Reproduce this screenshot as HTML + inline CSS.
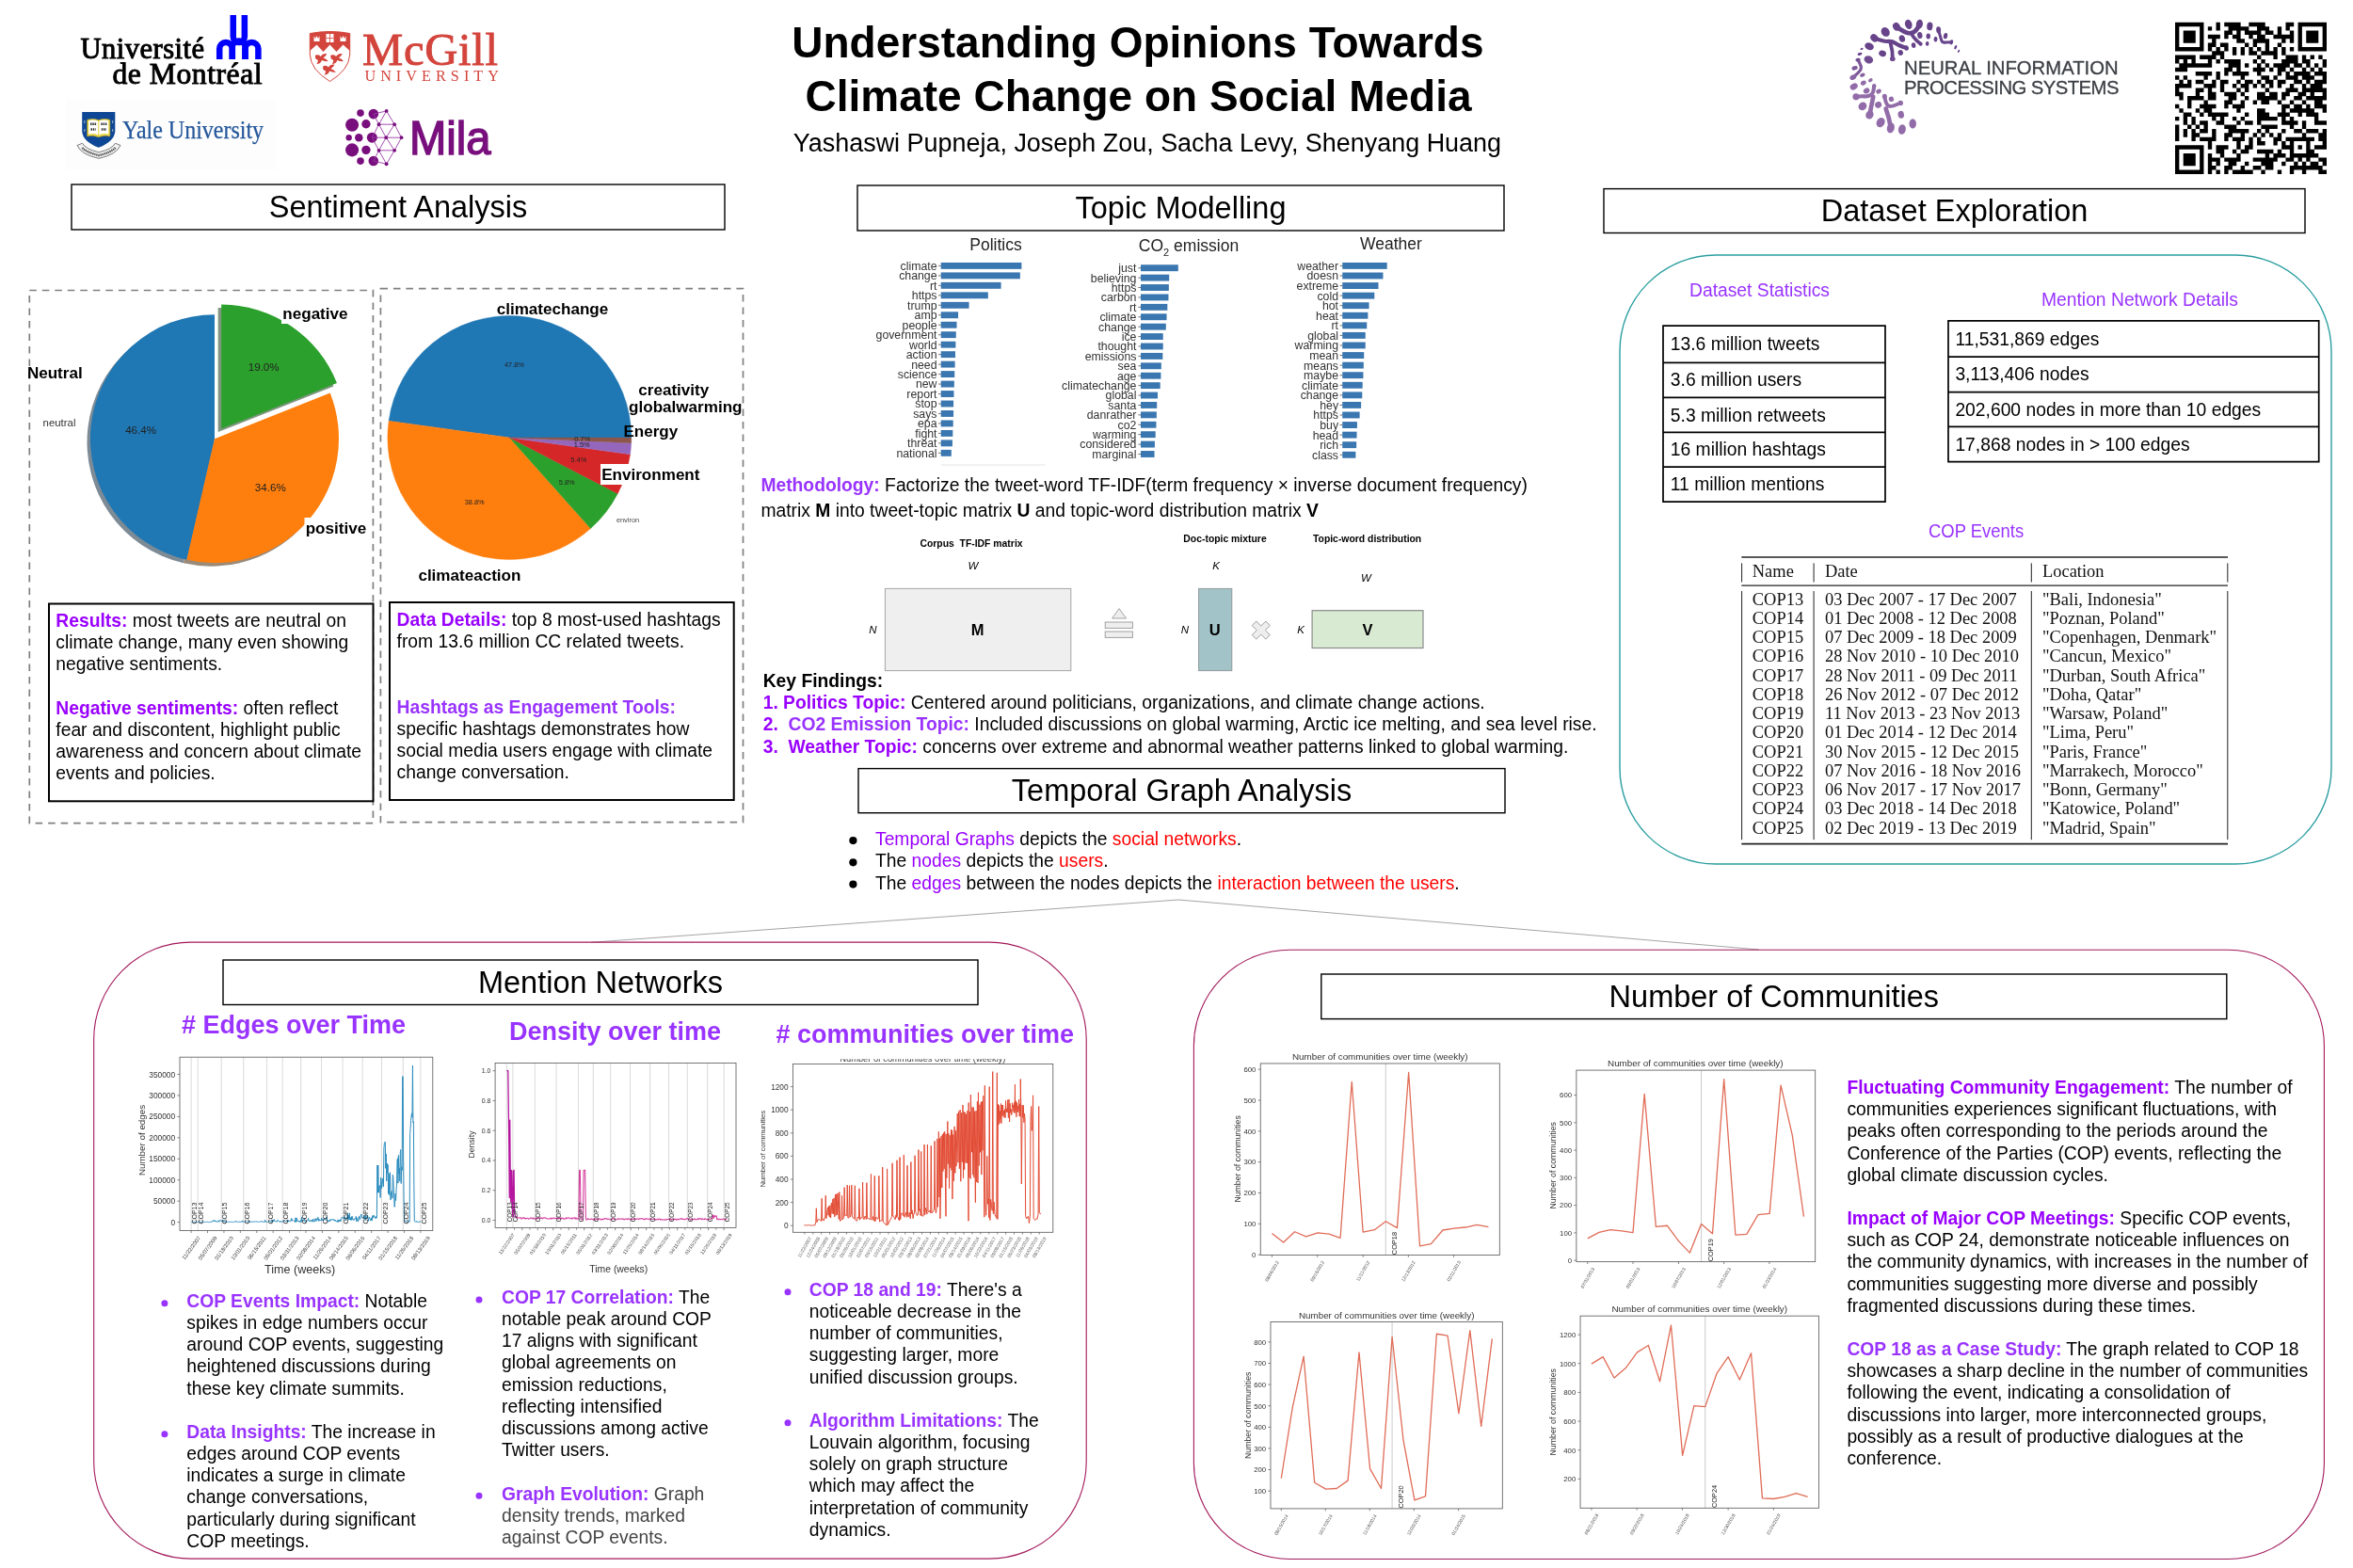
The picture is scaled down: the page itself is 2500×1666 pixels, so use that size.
<!DOCTYPE html>
<html><head><meta charset="utf-8"><title>Understanding Opinions Towards Climate Change on Social Media</title>
<style>
html,body{margin:0;padding:0;background:#fff;}
body{width:2500px;height:1666px;position:relative;overflow:hidden;font-family:"Liberation Sans", sans-serif;}
.t{position:absolute;white-space:nowrap;}
.sf{font-family:"Liberation Serif", serif;}
.p{color:#9933ff;}
.pv{color:#9900ff;}
.r{color:#ff0000;}
svg{position:absolute;left:0;top:0;will-change:transform;}
#txt{position:absolute;left:0;top:0;width:2500px;height:1666px;will-change:transform;}
svg text{font-family:"Liberation Sans", sans-serif;}
</style></head><body>
<svg width="2500" height="1666" viewBox="0 0 2500 1666">
<g fill="none" stroke="#0000ff" stroke-width="6.5" stroke-linejoin="round"><path d="M233.2,63 V51.85 A6.8,6.8 0 0 1 246.8,51.85 V63"/><path d="M246.8,63 V50.3 A6.85,6.85 0 0 1 260.5,50.3 V63"/><path d="M260.5,63 V51.85 A6.95,6.95 0 0 1 274.4,51.85 V63"/><path d="M247.75,16.1 V38.95 A6.05,6.05 0 0 0 259.85,38.95 V16.1"/></g>
<g><path d="M329.3,35.5 Q350.5,31.5 371.7,35.5 V58 Q371,74 350.5,86.5 Q330,74 329.3,58 Z" fill="#fff" stroke="#d3443c" stroke-width="1"/><path d="M329.3,35.5 Q350.5,31.5 371.7,35.5 V54 L364.5,47.5 L357.5,55 L350.5,47.5 L343.5,55 L336.5,47.5 L329.3,54 Z" fill="#d3443c"/><rect x="346.5" y="36" width="8" height="9" fill="#fff"/><path d="M350.5,36 V45 M346.5,40.5 H354.5" stroke="#d9443c" stroke-width="0.8"/><path d="M333.5,38 l1.5,3 l1.5,-3 l1.5,3 l1.5,-3 v6 h-6 z" fill="#fff"/><path d="M361.5,38 l1.5,3 l1.5,-3 l1.5,3 l1.5,-3 v6 h-6 z" fill="#fff"/><g fill="#d3443c"><path transform="translate(335.2,58.6) scale(1.35)" d="M0,0 q3,-1 4,1 q2,-3 5,-2 q-1,2 -3,3 q3,1 4,3 q-3,0 -5,-1 q-1,3 -4,3 q1,-2 1,-3 q-3,-1 -2,-4 z"/><path transform="translate(351.6,58.6) scale(1.35)" d="M0,0 q3,-1 4,1 q2,-3 5,-2 q-1,2 -3,3 q3,1 4,3 q-3,0 -5,-1 q-1,3 -4,3 q1,-2 1,-3 q-3,-1 -2,-4 z"/><path transform="translate(343.4,70.2) scale(1.35)" d="M0,0 q3,-1 4,1 q2,-3 5,-2 q-1,2 -3,3 q3,1 4,3 q-3,0 -5,-1 q-1,3 -4,3 q1,-2 1,-3 q-3,-1 -2,-4 z"/></g></g>
<rect x="70" y="105.5" width="223.5" height="75" fill="#fdfdfd"/>
<g><path d="M82,154.5 L87.5,152.2 Q91,158.5 105,161.8 Q119,158.5 122.5,152.2 L128,154.5 Q123.5,164.5 105,168.3 Q86.5,164.5 82,154.5 Z" fill="#f2f2f2" stroke="#5a5a5a" stroke-width="0.8"/><path d="M87.5,157 Q92,162 105,165 Q118,162 122.500,157" fill="none" stroke="#444" stroke-width="2.3" stroke-dasharray="1.3 0.8"/><path d="M87.200,119 H122.300 V139.500 Q121.500,150.500 104.750,156.800 Q88,150.500 87.200,139.500 Z" fill="#0e4795"/><path d="M92.600,127.300 q6,-2.200 12.150,0.300 q6.150,-2.500 12.150,-0.300 v17.600 q-6,-1.800 -12.150,0.900 q-6.150,-2.700 -12.150,-0.900 z" fill="#e9d648" stroke="#9a8a1c" stroke-width="0.5"/><path d="M94.200,128.200 q5,-1.700 10,0.400 v14.600 q-5,-2 -10,-0.600 z M105.300,128.600 q5,-2.100 10,-0.400 v14.400 q-5,-1.400 -10,0.600 z" fill="#fff"/><path d="M96,131.800 h6.200 M96.500,137.500 h5.200 M107.300,131.800 h6.200 M107.800,137.500 h5.200" stroke="#333" stroke-width="2.600" stroke-dasharray="1.500 0.800"/><path d="M89.800,128 v3 M89.800,137 v3 M119.700,128 v3 M119.700,137 v3" stroke="#cfcfcf" stroke-width="0.8"/></g>
<g fill="#780f7d"><circle cx="382.99" cy="120.06" r="3.82"/><circle cx="396.8" cy="121.12" r="5.31"/><circle cx="374.07" cy="132.81" r="7.01"/><circle cx="388.94" cy="131.75" r="4.67"/><circle cx="370.67" cy="146.2" r="3.19"/><circle cx="381.29" cy="146.2" r="4.25"/><circle cx="395.32" cy="146.2" r="5.52"/><circle cx="374.07" cy="159.37" r="7.01"/><circle cx="388.94" cy="159.37" r="4.67"/><circle cx="382.99" cy="171.06" r="3.82"/><circle cx="396.8" cy="171.06" r="5.31"/></g><g stroke="#9a3aa6" stroke-width="0.9" fill="none"><path d="M410.62,117.93 L402.54,132.17"/><path d="M410.62,117.93 L419.12,132.17"/><path d="M402.54,132.17 L419.12,132.17"/><path d="M402.54,132.17 L410.19,146.2"/><path d="M419.12,132.17 L410.19,146.2"/><path d="M419.12,132.17 L426.55,146.2"/><path d="M410.19,146.2 L426.55,146.2"/><path d="M410.19,146.2 L402.54,159.8"/><path d="M410.19,146.2 L419.12,159.8"/><path d="M426.55,146.2 L419.12,159.8"/><path d="M402.54,159.8 L419.12,159.8"/><path d="M402.54,159.8 L410.62,174.25"/><path d="M419.12,159.8 L410.62,174.25"/><path d="M396.8,121.12 L410.62,117.93"/><path d="M396.8,121.12 L402.54,132.17"/><path d="M395.32,146.2 L402.54,132.17"/><path d="M395.32,146.2 L410.19,146.2"/><path d="M395.32,146.2 L402.54,159.8"/><path d="M396.8,171.06 L402.54,159.8"/><path d="M396.8,171.06 L410.62,174.25"/></g><g fill="#780f7d"><circle cx="410.62" cy="117.93" r="1.9"/><circle cx="402.54" cy="132.17" r="1.9"/><circle cx="419.12" cy="132.17" r="1.9"/><circle cx="410.19" cy="146.2" r="1.9"/><circle cx="426.55" cy="146.2" r="1.9"/><circle cx="402.54" cy="159.8" r="1.9"/><circle cx="419.12" cy="159.8" r="1.9"/><circle cx="410.62" cy="174.25" r="1.9"/></g>
<g><path d="M2015,28.3 Q2022.86,34.11 2026.88,35 Q2030.89,35.89 2034.02,33.66 Q2037.14,31.43 2039.38,25.62" fill="none" stroke="#67438a" stroke-width="4.71" stroke-linecap="round" stroke-linejoin="round"/><path d="M2030.89,35.89 Q2033.57,41.25 2040.54,46.61" fill="none" stroke="#67438a" stroke-width="3.6" stroke-linecap="round" stroke-linejoin="round"/><path d="M1991.43,40.36 Q2001.43,44.38 2005.89,43.93 Q2010.36,43.48 2013.93,45.94 Q2017.5,48.39 2025.54,51.07" fill="none" stroke="#67438a" stroke-width="4.15" stroke-linecap="round" stroke-linejoin="round"/><path d="M2008.57,45.71 Q2011.25,54.64 2010.8,62.68" fill="none" stroke="#67438a" stroke-width="3.88" stroke-linecap="round" stroke-linejoin="round"/><path d="M2059.64,31.88 Q2061.7,39.46 2062.59,42.37 Q2063.48,45.27 2065.49,45.13 Q2067.5,45 2073.3,44.82" fill="none" stroke="#67438a" stroke-width="3.04" stroke-linecap="round" stroke-linejoin="round"/><path d="M1974.02,63.57 Q1978.39,70.71 1977.05,73.62 Q1975.71,76.52 1968.84,82.14" fill="none" stroke="#7f5a9b" stroke-width="3.32" stroke-linecap="round" stroke-linejoin="round"/><path d="M1991.16,91.25 Q1990.71,99.29 1987.59,101.07 Q1984.46,102.86 1980.89,102.41 Q1977.32,101.96 1971.96,102.86" fill="none" stroke="#926ca8" stroke-width="4.15" stroke-linecap="round" stroke-linejoin="round"/><path d="M1990.27,102.86 Q1988.21,112.68 1986.43,122.05" fill="none" stroke="#926ca8" stroke-width="4.71" stroke-linecap="round" stroke-linejoin="round"/><path d="M2002.32,102.41 Q2003.66,110.89 2006.12,112.23 Q2008.57,113.57 2012.14,112.23 Q2015.71,110.89 2019.29,109.55" fill="none" stroke="#926ca8" stroke-width="3.88" stroke-linecap="round" stroke-linejoin="round"/><path d="M2003.66,115.36 Q2007.68,126.07 2008.84,135.89" fill="none" stroke="#926ca8" stroke-width="4.71" stroke-linecap="round" stroke-linejoin="round"/><ellipse cx="2027.77" cy="25.89" rx="3.75" ry="5.18" fill="#67438a" transform="rotate(-15 2027.77 25.89)"/><ellipse cx="2039.38" cy="25.62" rx="3.57" ry="4.91" fill="#67438a" transform="rotate(10 2039.38 25.62)"/><ellipse cx="2050.36" cy="27.86" rx="3.12" ry="4.46" fill="#67438a" transform="rotate(5 2050.36 27.86)"/><ellipse cx="2059.64" cy="31.88" rx="2.5" ry="3.57" fill="#67438a" transform="rotate(-5 2059.64 31.88)"/><ellipse cx="2067.05" cy="38.12" rx="2.14" ry="3.21" fill="#67438a" transform="rotate(10 2067.05 38.12)"/><ellipse cx="2073.3" cy="44.82" rx="1.79" ry="2.68" fill="#67438a" transform="rotate(20 2073.3 44.82)"/><ellipse cx="2077.77" cy="50.18" rx="1.25" ry="2.32" fill="#67438a" transform="rotate(25 2077.77 50.18)"/><ellipse cx="2081.07" cy="54.38" rx="0.98" ry="1.61" fill="#67438a" transform="rotate(30 2081.07 54.38)"/><ellipse cx="2015" cy="28.3" rx="3.75" ry="4.46" fill="#67438a" transform="rotate(-30 2015 28.3)"/><ellipse cx="2003.21" cy="33.93" rx="4.29" ry="5.18" fill="#67438a" transform="rotate(-35 2003.21 33.93)"/><ellipse cx="1991.43" cy="40.36" rx="3.75" ry="4.46" fill="#67438a" transform="rotate(-45 1991.43 40.36)"/><ellipse cx="1986.07" cy="49.29" rx="4.91" ry="3.75" fill="#67438a" transform="rotate(20 1986.07 49.29)"/><ellipse cx="1985.36" cy="63.39" rx="4.91" ry="4.02" fill="#714c91" transform="rotate(20 1985.36 63.39)"/><ellipse cx="2020.89" cy="41.07" rx="3.12" ry="3.75" fill="#67438a" transform="rotate(-20 2020.89 41.07)"/><ellipse cx="2039.82" cy="37.5" rx="2.68" ry="3.57" fill="#67438a" transform="rotate(-10 2039.82 37.5)"/><ellipse cx="2048.75" cy="38.57" rx="2.23" ry="3.04" fill="#67438a" transform="rotate(0 2048.75 38.57)"/><ellipse cx="2056.52" cy="41.7" rx="1.96" ry="2.86" fill="#67438a" transform="rotate(10 2056.52 41.7)"/><ellipse cx="2047.68" cy="46.43" rx="1.79" ry="2.41" fill="#67438a" transform="rotate(0 2047.68 46.43)"/><ellipse cx="2040.54" cy="46.61" rx="1.96" ry="2.23" fill="#67438a" transform="rotate(0 2040.54 46.61)"/><ellipse cx="2033.12" cy="48.12" rx="2.32" ry="2.86" fill="#67438a" transform="rotate(-10 2033.12 48.12)"/><ellipse cx="2025.54" cy="51.07" rx="2.32" ry="2.68" fill="#67438a" transform="rotate(-20 2025.54 51.07)"/><ellipse cx="2019.29" cy="55.98" rx="2.68" ry="2.86" fill="#67438a" transform="rotate(-20 2019.29 55.98)"/><ellipse cx="2000.09" cy="56.88" rx="3.93" ry="3.21" fill="#67438a" transform="rotate(20 2000.09 56.88)"/><ellipse cx="2010.8" cy="62.68" rx="2.86" ry="2.32" fill="#704b90" transform="rotate(0 2010.8 62.68)"/><ellipse cx="1978.04" cy="51.96" rx="1.61" ry="0.98" fill="#67438a" transform="rotate(-20 1978.04 51.96)"/><ellipse cx="1975.98" cy="57.32" rx="2.5" ry="1.43" fill="#68448a" transform="rotate(-15 1975.98 57.32)"/><ellipse cx="1974.02" cy="63.57" rx="2.68" ry="1.79" fill="#714c91" transform="rotate(-10 1974.02 63.57)"/><ellipse cx="1970.62" cy="72.32" rx="3.21" ry="2.14" fill="#7e599a" transform="rotate(-20 1970.62 72.32)"/><ellipse cx="1968.84" cy="82.14" rx="3.57" ry="2.5" fill="#8c66a4" transform="rotate(-25 1968.84 82.14)"/><ellipse cx="1978.84" cy="79.82" rx="2.86" ry="1.96" fill="#8963a1" transform="rotate(-25 1978.84 79.82)"/><ellipse cx="1969.73" cy="91.96" rx="4.29" ry="3.21" fill="#926ca8" transform="rotate(-30 1969.73 91.96)"/><ellipse cx="1979.82" cy="88.12" rx="3.04" ry="2.32" fill="#926ca8" transform="rotate(-30 1979.82 88.12)"/><ellipse cx="1987.32" cy="85.18" rx="2.5" ry="1.79" fill="#906ba7" transform="rotate(-30 1987.32 85.18)"/><ellipse cx="1991.16" cy="91.25" rx="2.32" ry="1.96" fill="#926ca8" transform="rotate(-20 1991.16 91.25)"/><ellipse cx="1983.12" cy="96.43" rx="3.39" ry="2.86" fill="#926ca8" transform="rotate(-30 1983.12 96.43)"/><ellipse cx="1996.07" cy="97.05" rx="2.86" ry="2.32" fill="#926ca8" transform="rotate(-30 1996.07 97.05)"/><ellipse cx="1971.96" cy="102.86" rx="3.57" ry="3.57" fill="#926ca8" transform="rotate(0 1971.96 102.86)"/><ellipse cx="1978.93" cy="112.86" rx="4.64" ry="4.11" fill="#926ca8" transform="rotate(-40 1978.93 112.86)"/><ellipse cx="1995.62" cy="111.34" rx="3.57" ry="3.39" fill="#926ca8" transform="rotate(-30 1995.62 111.34)"/><ellipse cx="2002.32" cy="102.41" rx="2.5" ry="2.68" fill="#926ca8" transform="rotate(0 2002.32 102.41)"/><ellipse cx="2009.46" cy="105.36" rx="2.68" ry="2.68" fill="#926ca8" transform="rotate(-20 2009.46 105.36)"/><ellipse cx="2019.29" cy="109.55" rx="2.68" ry="2.68" fill="#926ca8" transform="rotate(0 2019.29 109.55)"/><ellipse cx="2019.73" cy="121.79" rx="3.21" ry="3.93" fill="#926ca8" transform="rotate(-10 2019.73 121.79)"/><ellipse cx="2032.23" cy="131.43" rx="3.75" ry="5.18" fill="#926ca8" transform="rotate(0 2032.23 131.43)"/><ellipse cx="2020.89" cy="137.5" rx="3.93" ry="5.36" fill="#926ca8" transform="rotate(10 2020.89 137.5)"/><ellipse cx="2008.84" cy="135.89" rx="3.93" ry="5.54" fill="#926ca8" transform="rotate(15 2008.84 135.89)"/><ellipse cx="1998.12" cy="130.09" rx="4.29" ry="5.36" fill="#926ca8" transform="rotate(30 1998.12 130.09)"/><ellipse cx="1986.43" cy="122.05" rx="4.02" ry="4.64" fill="#926ca8" transform="rotate(30 1986.43 122.05)"/></g>
<path d="M2311,23.8h30.46v4.47h-30.46zM2354.51,23.8h4.35v4.47h-4.35zM2363.22,23.8h17.41v4.47h-17.41zM2389.32,23.8h17.41v4.47h-17.41zM2428.49,23.8h8.7v4.47h-8.7zM2441.54,23.8h30.46v4.47h-30.46zM2311,28.15h4.35v4.47h-4.35zM2337.11,28.15h4.35v4.47h-4.35zM2345.81,28.15h4.35v4.47h-4.35zM2354.51,28.15h4.35v4.47h-4.35zM2367.57,28.15h21.76v4.47h-21.76zM2398.03,28.15h13.05v4.47h-13.05zM2419.78,28.15h4.35v4.47h-4.35zM2428.49,28.15h4.35v4.47h-4.35zM2441.54,28.15h4.35v4.47h-4.35zM2467.65,28.15h4.35v4.47h-4.35zM2311,32.5h4.35v4.47h-4.35zM2319.7,32.5h13.05v4.47h-13.05zM2337.11,32.5h4.35v4.47h-4.35zM2363.22,32.5h8.7v4.47h-8.7zM2376.27,32.5h4.35v4.47h-4.35zM2384.97,32.5h17.41v4.47h-17.41zM2406.73,32.5h8.7v4.47h-8.7zM2419.78,32.5h4.35v4.47h-4.35zM2432.84,32.5h4.35v4.47h-4.35zM2441.54,32.5h4.35v4.47h-4.35zM2450.24,32.5h13.05v4.47h-13.05zM2467.65,32.5h4.35v4.47h-4.35zM2311,36.85h4.35v4.47h-4.35zM2319.7,36.85h13.05v4.47h-13.05zM2337.11,36.85h4.35v4.47h-4.35zM2345.81,36.85h13.05v4.47h-13.05zM2363.22,36.85h4.35v4.47h-4.35zM2371.92,36.85h8.7v4.47h-8.7zM2389.32,36.85h4.35v4.47h-4.35zM2398.03,36.85h8.7v4.47h-8.7zM2415.43,36.85h21.76v4.47h-21.76zM2441.54,36.85h4.35v4.47h-4.35zM2450.24,36.85h13.05v4.47h-13.05zM2467.65,36.85h4.35v4.47h-4.35zM2311,41.21h4.35v4.47h-4.35zM2319.7,41.21h13.05v4.47h-13.05zM2337.11,41.21h4.35v4.47h-4.35zM2350.16,41.21h4.35v4.47h-4.35zM2376.27,41.21h8.7v4.47h-8.7zM2393.68,41.21h17.41v4.47h-17.41zM2424.14,41.21h4.35v4.47h-4.35zM2432.84,41.21h4.35v4.47h-4.35zM2441.54,41.21h4.35v4.47h-4.35zM2450.24,41.21h13.05v4.47h-13.05zM2467.65,41.21h4.35v4.47h-4.35zM2311,45.56h4.35v4.47h-4.35zM2337.11,45.56h4.35v4.47h-4.35zM2345.81,45.56h8.7v4.47h-8.7zM2358.86,45.56h8.7v4.47h-8.7zM2384.97,45.56h4.35v4.47h-4.35zM2393.68,45.56h4.35v4.47h-4.35zM2406.73,45.56h4.35v4.47h-4.35zM2419.78,45.56h4.35v4.47h-4.35zM2441.54,45.56h4.35v4.47h-4.35zM2467.65,45.56h4.35v4.47h-4.35zM2311,49.91h30.46v4.47h-30.46zM2345.81,49.91h4.35v4.47h-4.35zM2354.51,49.91h4.35v4.47h-4.35zM2363.22,49.91h4.35v4.47h-4.35zM2371.92,49.91h4.35v4.47h-4.35zM2380.62,49.91h4.35v4.47h-4.35zM2389.32,49.91h4.35v4.47h-4.35zM2398.03,49.91h4.35v4.47h-4.35zM2406.73,49.91h4.35v4.47h-4.35zM2415.43,49.91h4.35v4.47h-4.35zM2424.14,49.91h4.35v4.47h-4.35zM2432.84,49.91h4.35v4.47h-4.35zM2441.54,49.91h30.46v4.47h-30.46zM2350.16,54.26h13.05v4.47h-13.05zM2371.92,54.26h4.35v4.47h-4.35zM2380.62,54.26h4.35v4.47h-4.35zM2389.32,54.26h8.7v4.47h-8.7zM2402.38,54.26h17.41v4.47h-17.41zM2424.14,54.26h4.35v4.47h-4.35zM2311,58.61h21.76v4.47h-21.76zM2337.11,58.61h17.41v4.47h-17.41zM2358.86,58.61h4.35v4.47h-4.35zM2398.03,58.61h4.35v4.47h-4.35zM2415.43,58.61h4.35v4.47h-4.35zM2428.49,58.61h13.05v4.47h-13.05zM2445.89,58.61h4.35v4.47h-4.35zM2454.59,58.61h4.35v4.47h-4.35zM2463.3,58.61h4.35v4.47h-4.35zM2311,62.96h4.35v4.47h-4.35zM2319.7,62.96h4.35v4.47h-4.35zM2328.41,62.96h4.35v4.47h-4.35zM2345.81,62.96h4.35v4.47h-4.35zM2354.51,62.96h4.35v4.47h-4.35zM2363.22,62.96h17.41v4.47h-17.41zM2393.68,62.96h4.35v4.47h-4.35zM2402.38,62.96h4.35v4.47h-4.35zM2424.14,62.96h17.41v4.47h-17.41zM2445.89,62.96h8.7v4.47h-8.7zM2467.65,62.96h4.35v4.47h-4.35zM2315.35,67.31h34.81v4.47h-34.81zM2367.57,67.31h13.05v4.47h-13.05zM2384.97,67.31h4.35v4.47h-4.35zM2398.03,67.31h4.35v4.47h-4.35zM2406.73,67.31h4.35v4.47h-4.35zM2415.43,67.31h17.41v4.47h-17.41zM2437.19,67.31h8.7v4.47h-8.7zM2450.24,67.31h4.35v4.47h-4.35zM2458.95,67.31h4.35v4.47h-4.35zM2467.65,67.31h4.35v4.47h-4.35zM2311,71.66h13.05v4.47h-13.05zM2363.22,71.66h8.7v4.47h-8.7zM2376.27,71.66h4.35v4.47h-4.35zM2393.68,71.66h13.05v4.47h-13.05zM2411.08,71.66h4.35v4.47h-4.35zM2419.78,71.66h8.7v4.47h-8.7zM2432.84,71.66h4.35v4.47h-4.35zM2445.89,71.66h4.35v4.47h-4.35zM2454.59,71.66h4.35v4.47h-4.35zM2463.3,71.66h4.35v4.47h-4.35zM2332.76,76.02h17.41v4.47h-17.41zM2354.51,76.02h4.35v4.47h-4.35zM2363.22,76.02h4.35v4.47h-4.35zM2371.92,76.02h17.41v4.47h-17.41zM2398.03,76.02h4.35v4.47h-4.35zM2419.78,76.02h4.35v4.47h-4.35zM2428.49,76.02h4.35v4.47h-4.35zM2437.19,76.02h17.41v4.47h-17.41zM2458.95,76.02h13.05v4.47h-13.05zM2311,80.37h4.35v4.47h-4.35zM2319.7,80.37h4.35v4.47h-4.35zM2341.46,80.37h4.35v4.47h-4.35zM2354.51,80.37h4.35v4.47h-4.35zM2380.62,80.37h4.35v4.47h-4.35zM2402.38,80.37h8.7v4.47h-8.7zM2415.43,80.37h4.35v4.47h-4.35zM2428.49,80.37h13.05v4.47h-13.05zM2445.89,80.37h13.05v4.47h-13.05zM2467.65,80.37h4.35v4.47h-4.35zM2315.35,84.72h4.35v4.47h-4.35zM2324.05,84.72h4.35v4.47h-4.35zM2332.76,84.72h8.7v4.47h-8.7zM2350.16,84.72h4.35v4.47h-4.35zM2358.86,84.72h8.7v4.47h-8.7zM2376.27,84.72h4.35v4.47h-4.35zM2384.97,84.72h8.7v4.47h-8.7zM2398.03,84.72h4.35v4.47h-4.35zM2406.73,84.72h8.7v4.47h-8.7zM2419.78,84.72h8.7v4.47h-8.7zM2437.19,84.72h8.7v4.47h-8.7zM2450.24,84.72h4.35v4.47h-4.35zM2458.95,84.72h13.05v4.47h-13.05zM2311,89.07h17.41v4.47h-17.41zM2341.46,89.07h13.05v4.47h-13.05zM2358.86,89.07h4.35v4.47h-4.35zM2371.92,89.07h4.35v4.47h-4.35zM2380.62,89.07h8.7v4.47h-8.7zM2393.68,89.07h4.35v4.47h-4.35zM2402.38,89.07h4.35v4.47h-4.35zM2411.08,89.07h4.35v4.47h-4.35zM2419.78,89.07h4.35v4.47h-4.35zM2432.84,89.07h4.35v4.47h-4.35zM2445.89,89.07h4.35v4.47h-4.35zM2454.59,89.07h13.05v4.47h-13.05zM2311,93.42h4.35v4.47h-4.35zM2332.76,93.42h8.7v4.47h-8.7zM2345.81,93.42h4.35v4.47h-4.35zM2358.86,93.42h4.35v4.47h-4.35zM2376.27,93.42h4.35v4.47h-4.35zM2384.97,93.42h4.35v4.47h-4.35zM2406.73,93.42h4.35v4.47h-4.35zM2428.49,93.42h13.05v4.47h-13.05zM2445.89,93.42h26.11v4.47h-26.11zM2311,97.77h8.7v4.47h-8.7zM2332.76,97.77h4.35v4.47h-4.35zM2345.81,97.77h8.7v4.47h-8.7zM2363.22,97.77h13.05v4.47h-13.05zM2380.62,97.77h4.35v4.47h-4.35zM2398.03,97.77h8.7v4.47h-8.7zM2411.08,97.77h8.7v4.47h-8.7zM2424.14,97.77h8.7v4.47h-8.7zM2441.54,97.77h8.7v4.47h-8.7zM2454.59,97.77h4.35v4.47h-4.35zM2467.65,97.77h4.35v4.47h-4.35zM2315.35,102.12h4.35v4.47h-4.35zM2324.05,102.12h17.41v4.47h-17.41zM2345.81,102.12h8.7v4.47h-8.7zM2367.57,102.12h8.7v4.47h-8.7zM2384.97,102.12h4.35v4.47h-4.35zM2398.03,102.12h21.76v4.47h-21.76zM2424.14,102.12h4.35v4.47h-4.35zM2437.19,102.12h8.7v4.47h-8.7zM2450.24,102.12h21.76v4.47h-21.76zM2324.05,106.48h4.35v4.47h-4.35zM2341.46,106.48h4.35v4.47h-4.35zM2363.22,106.48h8.7v4.47h-8.7zM2380.62,106.48h4.35v4.47h-4.35zM2393.68,106.48h4.35v4.47h-4.35zM2402.38,106.48h8.7v4.47h-8.7zM2419.78,106.48h4.35v4.47h-4.35zM2432.84,106.48h4.35v4.47h-4.35zM2445.89,106.48h4.35v4.47h-4.35zM2458.95,106.48h8.7v4.47h-8.7zM2311,110.83h4.35v4.47h-4.35zM2324.05,110.83h4.35v4.47h-4.35zM2337.11,110.83h17.41v4.47h-17.41zM2363.22,110.83h4.35v4.47h-4.35zM2371.92,110.83h13.05v4.47h-13.05zM2424.14,110.83h8.7v4.47h-8.7zM2437.19,110.83h8.7v4.47h-8.7zM2450.24,110.83h4.35v4.47h-4.35zM2458.95,110.83h13.05v4.47h-13.05zM2315.35,115.18h4.35v4.47h-4.35zM2332.76,115.18h4.35v4.47h-4.35zM2341.46,115.18h8.7v4.47h-8.7zM2376.27,115.18h4.35v4.47h-4.35zM2398.03,115.18h8.7v4.47h-8.7zM2424.14,115.18h4.35v4.47h-4.35zM2432.84,115.18h26.11v4.47h-26.11zM2467.65,115.18h4.35v4.47h-4.35zM2319.7,119.53h8.7v4.47h-8.7zM2337.11,119.53h4.35v4.47h-4.35zM2345.81,119.53h21.76v4.47h-21.76zM2384.97,119.53h4.35v4.47h-4.35zM2398.03,119.53h13.05v4.47h-13.05zM2419.78,119.53h13.05v4.47h-13.05zM2441.54,119.53h4.35v4.47h-4.35zM2450.24,119.53h13.05v4.47h-13.05zM2311,123.88h4.35v4.47h-4.35zM2319.7,123.88h4.35v4.47h-4.35zM2328.41,123.88h4.35v4.47h-4.35zM2350.16,123.88h4.35v4.47h-4.35zM2358.86,123.88h4.35v4.47h-4.35zM2371.92,123.88h4.35v4.47h-4.35zM2380.62,123.88h4.35v4.47h-4.35zM2398.03,123.88h21.76v4.47h-21.76zM2424.14,123.88h4.35v4.47h-4.35zM2432.84,123.88h4.35v4.47h-4.35zM2458.95,123.88h4.35v4.47h-4.35zM2319.7,128.23h4.35v4.47h-4.35zM2328.41,128.23h4.35v4.47h-4.35zM2337.11,128.23h8.7v4.47h-8.7zM2354.51,128.23h8.7v4.47h-8.7zM2376.27,128.23h4.35v4.47h-4.35zM2384.97,128.23h8.7v4.47h-8.7zM2398.03,128.23h4.35v4.47h-4.35zM2424.14,128.23h17.41v4.47h-17.41zM2445.89,128.23h4.35v4.47h-4.35zM2458.95,128.23h13.05v4.47h-13.05zM2311,132.58h4.35v4.47h-4.35zM2324.05,132.58h4.35v4.47h-4.35zM2332.76,132.58h4.35v4.47h-4.35zM2341.46,132.58h4.35v4.47h-4.35zM2363.22,132.58h13.05v4.47h-13.05zM2402.38,132.58h17.41v4.47h-17.41zM2432.84,132.58h4.35v4.47h-4.35zM2445.89,132.58h4.35v4.47h-4.35zM2311,136.94h4.35v4.47h-4.35zM2319.7,136.94h4.35v4.47h-4.35zM2328.41,136.94h4.35v4.47h-4.35zM2337.11,136.94h8.7v4.47h-8.7zM2350.16,136.94h4.35v4.47h-4.35zM2367.57,136.94h21.76v4.47h-21.76zM2398.03,136.94h4.35v4.47h-4.35zM2406.73,136.94h4.35v4.47h-4.35zM2424.14,136.94h4.35v4.47h-4.35zM2437.19,136.94h8.7v4.47h-8.7zM2450.24,136.94h13.05v4.47h-13.05zM2467.65,136.94h4.35v4.47h-4.35zM2311,141.29h4.35v4.47h-4.35zM2319.7,141.29h4.35v4.47h-4.35zM2328.41,141.29h8.7v4.47h-8.7zM2350.16,141.29h4.35v4.47h-4.35zM2363.22,141.29h8.7v4.47h-8.7zM2380.62,141.29h4.35v4.47h-4.35zM2393.68,141.29h4.35v4.47h-4.35zM2402.38,141.29h4.35v4.47h-4.35zM2411.08,141.29h4.35v4.47h-4.35zM2419.78,141.29h4.35v4.47h-4.35zM2445.89,141.29h4.35v4.47h-4.35zM2463.3,141.29h8.7v4.47h-8.7zM2311,145.64h4.35v4.47h-4.35zM2328.41,145.64h4.35v4.47h-4.35zM2337.11,145.64h17.41v4.47h-17.41zM2363.22,145.64h4.35v4.47h-4.35zM2371.92,145.64h13.05v4.47h-13.05zM2389.32,145.64h4.35v4.47h-4.35zM2398.03,145.64h4.35v4.47h-4.35zM2415.43,145.64h8.7v4.47h-8.7zM2428.49,145.64h30.46v4.47h-30.46zM2463.3,145.64h8.7v4.47h-8.7zM2345.81,149.99h4.35v4.47h-4.35zM2376.27,149.99h4.35v4.47h-4.35zM2389.32,149.99h4.35v4.47h-4.35zM2398.03,149.99h8.7v4.47h-8.7zM2415.43,149.99h4.35v4.47h-4.35zM2424.14,149.99h4.35v4.47h-4.35zM2432.84,149.99h4.35v4.47h-4.35zM2450.24,149.99h4.35v4.47h-4.35zM2467.65,149.99h4.35v4.47h-4.35zM2311,154.34h30.46v4.47h-30.46zM2345.81,154.34h4.35v4.47h-4.35zM2354.51,154.34h13.05v4.47h-13.05zM2376.27,154.34h4.35v4.47h-4.35zM2384.97,154.34h8.7v4.47h-8.7zM2424.14,154.34h13.05v4.47h-13.05zM2441.54,154.34h4.35v4.47h-4.35zM2450.24,154.34h4.35v4.47h-4.35zM2458.95,154.34h13.05v4.47h-13.05zM2311,158.69h4.35v4.47h-4.35zM2337.11,158.69h4.35v4.47h-4.35zM2354.51,158.69h8.7v4.47h-8.7zM2371.92,158.69h4.35v4.47h-4.35zM2380.62,158.69h8.7v4.47h-8.7zM2398.03,158.69h17.41v4.47h-17.41zM2419.78,158.69h4.35v4.47h-4.35zM2432.84,158.69h4.35v4.47h-4.35zM2450.24,158.69h8.7v4.47h-8.7zM2311,163.04h4.35v4.47h-4.35zM2319.7,163.04h13.05v4.47h-13.05zM2337.11,163.04h4.35v4.47h-4.35zM2345.81,163.04h4.35v4.47h-4.35zM2358.86,163.04h4.35v4.47h-4.35zM2376.27,163.04h4.35v4.47h-4.35zM2406.73,163.04h4.35v4.47h-4.35zM2415.43,163.04h13.05v4.47h-13.05zM2432.84,163.04h30.46v4.47h-30.46zM2311,167.39h4.35v4.47h-4.35zM2319.7,167.39h13.05v4.47h-13.05zM2337.11,167.39h4.35v4.47h-4.35zM2345.81,167.39h13.05v4.47h-13.05zM2363.22,167.39h17.41v4.47h-17.41zM2393.68,167.39h26.11v4.47h-26.11zM2428.49,167.39h8.7v4.47h-8.7zM2441.54,167.39h4.35v4.47h-4.35zM2450.24,167.39h4.35v4.47h-4.35zM2463.3,167.39h8.7v4.47h-8.7zM2311,171.75h4.35v4.47h-4.35zM2319.7,171.75h13.05v4.47h-13.05zM2337.11,171.75h4.35v4.47h-4.35zM2345.81,171.75h4.35v4.47h-4.35zM2354.51,171.75h4.35v4.47h-4.35zM2367.57,171.75h8.7v4.47h-8.7zM2384.97,171.75h4.35v4.47h-4.35zM2402.38,171.75h13.05v4.47h-13.05zM2424.14,171.75h4.35v4.47h-4.35zM2437.19,171.75h4.35v4.47h-4.35zM2445.89,171.75h4.35v4.47h-4.35zM2454.59,171.75h8.7v4.47h-8.7zM2467.65,171.75h4.35v4.47h-4.35zM2311,176.1h4.35v4.47h-4.35zM2337.11,176.1h4.35v4.47h-4.35zM2345.81,176.1h8.7v4.47h-8.7zM2363.22,176.1h8.7v4.47h-8.7zM2380.62,176.1h4.35v4.47h-4.35zM2393.68,176.1h8.7v4.47h-8.7zM2406.73,176.1h8.7v4.47h-8.7zM2432.84,176.1h34.81v4.47h-34.81zM2311,180.45h30.46v4.47h-30.46zM2345.81,180.45h4.35v4.47h-4.35zM2354.51,180.45h4.35v4.47h-4.35zM2363.22,180.45h4.35v4.47h-4.35zM2371.92,180.45h21.76v4.47h-21.76zM2402.38,180.45h4.35v4.47h-4.35zM2419.78,180.45h4.35v4.47h-4.35zM2432.84,180.45h4.35v4.47h-4.35zM2445.89,180.45h4.35v4.47h-4.35zM2463.3,180.45h8.7v4.47h-8.7z" fill="#000"/>
<rect x="76" y="196" width="694" height="48" fill="none" stroke="#000" stroke-width="1.4" />
<rect x="911" y="197" width="687" height="48" fill="none" stroke="#000" stroke-width="1.4" />
<rect x="1704" y="200.6" width="745" height="46.9" fill="none" stroke="#000" stroke-width="1.4" />
<rect x="912" y="816.6" width="687" height="47.1" fill="none" stroke="#000" stroke-width="1.4" />
<rect x="237" y="1020" width="802" height="47.5" fill="none" stroke="#000" stroke-width="1.4" />
<rect x="1403.8" y="1035" width="962" height="47.6" fill="none" stroke="#000" stroke-width="1.4" />
<rect x="31.3" y="308.5" width="365.1" height="566.2" fill="none" stroke="#808080" stroke-width="1.7" stroke-dasharray="7.6 5.9"/>
<rect x="404.4" y="306.6" width="385.1" height="567.1" fill="none" stroke="#808080" stroke-width="1.7" stroke-dasharray="7.6 5.9"/>
<path d="M224.5,469.7 L224.5,337.7 A132,132 0 0 0 194.9,598.34 Z" fill="#7d8b96" />
<path d="M224.5,469.7 L194.9,598.34 A132,132 0 0 0 347.23,421.11 Z" fill="#9a8a78" />
<path d="M231.69,459.11 L354.43,410.52 A132,132 0 0 0 231.69,327.11 Z" fill="#7f957f" />
<path d="M228,466.2 L228,334.2 A132,132 0 0 0 198.4,594.84 Z" fill="#1f77b4" />
<path d="M228,466.2 L198.4,594.84 A132,132 0 0 0 350.73,417.61 Z" fill="#ff7f0e" />
<path d="M235.19,455.61 L357.93,407.02 A132,132 0 0 0 235.19,323.61 Z" fill="#2ca02c" />
<text x="149.6" y="461" font-size="11.6" text-anchor="middle" fill="#222" >46.4%</text>
<text x="280.2" y="394" font-size="11.6" text-anchor="middle" fill="#222" >19.0%</text>
<text x="287.3" y="522.2" font-size="11.6" text-anchor="middle" fill="#222" >34.6%</text>
<text x="63" y="452.8" font-size="11.4" text-anchor="middle" fill="#333" >neutral</text>
<rect x="299" y="322" width="73" height="22" fill="#fff"/>
<rect x="323.5" y="550" width="66" height="22" fill="#fff"/>
<path d="M541.3,465 L670.8,465 A129.5,129.5 0 0 0 413.04,447.16 Z" fill="#1f77b4" stroke="#1f77b4" stroke-width="0.4"/>
<path d="M541.3,465 L413.04,447.16 A129.5,129.5 0 0 0 627.55,561.6 Z" fill="#ff7f0e" stroke="#ff7f0e" stroke-width="0.4"/>
<path d="M541.3,465 L627.55,561.6 A129.5,129.5 0 0 0 656.31,524.52 Z" fill="#2ca02c" stroke="#2ca02c" stroke-width="0.4"/>
<path d="M541.3,465 L656.31,524.52 A129.5,129.5 0 0 0 669.56,482.84 Z" fill="#d62728" stroke="#d62728" stroke-width="0.4"/>
<path d="M541.3,465 L669.56,482.84 A129.5,129.5 0 0 0 670.67,470.69 Z" fill="#9467bd" stroke="#9467bd" stroke-width="0.4"/>
<path d="M541.3,465 L670.67,470.69 A129.5,129.5 0 0 0 670.8,465 Z" fill="#8c564b" stroke="#8c564b" stroke-width="0.4"/>
<text x="546.4" y="389.5" font-size="7.4" text-anchor="middle" fill="#222" >47.8%</text>
<text x="504.2" y="535.7" font-size="7.4" text-anchor="middle" fill="#222" >38.8%</text>
<text x="602.2" y="514.9" font-size="7.4" text-anchor="middle" fill="#222" >5.8%</text>
<text x="614.8" y="490.5" font-size="7.4" text-anchor="middle" fill="#222" >5.4%</text>
<text x="618.2" y="474.6" font-size="7.4" text-anchor="middle" fill="#222" >1.5%</text>
<text x="618.8" y="468.6" font-size="7.4" text-anchor="middle" fill="#222" >0.7%</text>
<text x="667" y="554.6" font-size="7.4" text-anchor="middle" fill="#444" >environ</text>
<rect x="638" y="493" width="108" height="22" fill="#fff"/>
<rect x="52" y="641.5" width="344.5" height="209.8" fill="#fff" stroke="#000" stroke-width="2" />
<rect x="414" y="640" width="365.7" height="210" fill="#fff" stroke="#000" stroke-width="2" />
<text x="1058" y="265.5" font-size="17.5" text-anchor="middle" fill="#222" >Politics</text>
<text x="1263" y="266.5" font-size="17.5" text-anchor="middle" fill="#222">CO<tspan font-size="11" dy="5">2</tspan><tspan dy="-5"> emission</tspan></text>
<text x="1478" y="264.8" font-size="17.5" text-anchor="middle" fill="#222" >Weather</text>
<g><rect x="999.69" y="278.96" width="85.69" height="6.9" fill="#3a76af"/><path d="M997.09,282.41 H999.69" stroke="#333" stroke-width="0.7"/><text x="995.49" y="286.81" font-size="12.3" text-anchor="end" fill="#333" >climate</text><rect x="999.69" y="289.43" width="84.16" height="6.9" fill="#3a76af"/><path d="M997.09,292.88 H999.69" stroke="#333" stroke-width="0.7"/><text x="995.49" y="297.28" font-size="12.3" text-anchor="end" fill="#333" >change</text><rect x="999.69" y="299.9" width="63.89" height="6.9" fill="#3a76af"/><path d="M997.09,303.35 H999.69" stroke="#333" stroke-width="0.7"/><text x="995.49" y="307.75" font-size="12.3" text-anchor="end" fill="#333" >rt</text><rect x="999.69" y="310.37" width="50.11" height="6.9" fill="#3a76af"/><path d="M997.09,313.82 H999.69" stroke="#333" stroke-width="0.7"/><text x="995.49" y="318.22" font-size="12.3" text-anchor="end" fill="#333" >https</text><rect x="999.69" y="320.84" width="29.84" height="6.9" fill="#3a76af"/><path d="M997.09,324.29 H999.69" stroke="#333" stroke-width="0.7"/><text x="995.49" y="328.69" font-size="12.3" text-anchor="end" fill="#333" >trump</text><rect x="999.69" y="331.31" width="18.36" height="6.9" fill="#3a76af"/><path d="M997.09,334.76 H999.69" stroke="#333" stroke-width="0.7"/><text x="995.49" y="339.16" font-size="12.3" text-anchor="end" fill="#333" >amp</text><rect x="999.69" y="341.78" width="16.83" height="6.9" fill="#3a76af"/><path d="M997.09,345.23 H999.69" stroke="#333" stroke-width="0.7"/><text x="995.49" y="349.63" font-size="12.3" text-anchor="end" fill="#333" >people</text><rect x="999.69" y="352.25" width="16.07" height="6.9" fill="#3a76af"/><path d="M997.09,355.7 H999.69" stroke="#333" stroke-width="0.7"/><text x="995.49" y="360.1" font-size="12.3" text-anchor="end" fill="#333" >government</text><rect x="999.69" y="362.72" width="15.68" height="6.9" fill="#3a76af"/><path d="M997.09,366.17 H999.69" stroke="#333" stroke-width="0.7"/><text x="995.49" y="370.57" font-size="12.3" text-anchor="end" fill="#333" >world</text><rect x="999.69" y="373.19" width="15.3" height="6.9" fill="#3a76af"/><path d="M997.09,376.64 H999.69" stroke="#333" stroke-width="0.7"/><text x="995.49" y="381.04" font-size="12.3" text-anchor="end" fill="#333" >action</text><rect x="999.69" y="383.66" width="14.92" height="6.9" fill="#3a76af"/><path d="M997.09,387.11 H999.69" stroke="#333" stroke-width="0.7"/><text x="995.49" y="391.51" font-size="12.3" text-anchor="end" fill="#333" >need</text><rect x="999.69" y="394.13" width="14.54" height="6.9" fill="#3a76af"/><path d="M997.09,397.58 H999.69" stroke="#333" stroke-width="0.7"/><text x="995.49" y="401.98" font-size="12.3" text-anchor="end" fill="#333" >science</text><rect x="999.69" y="404.6" width="14.15" height="6.9" fill="#3a76af"/><path d="M997.09,408.05 H999.69" stroke="#333" stroke-width="0.7"/><text x="995.49" y="412.45" font-size="12.3" text-anchor="end" fill="#333" >new</text><rect x="999.69" y="415.07" width="13.77" height="6.9" fill="#3a76af"/><path d="M997.09,418.52 H999.69" stroke="#333" stroke-width="0.7"/><text x="995.49" y="422.92" font-size="12.3" text-anchor="end" fill="#333" >report</text><rect x="999.69" y="425.54" width="13.39" height="6.9" fill="#3a76af"/><path d="M997.09,428.99 H999.69" stroke="#333" stroke-width="0.7"/><text x="995.49" y="433.39" font-size="12.3" text-anchor="end" fill="#333" >stop</text><rect x="999.69" y="436.01" width="13.39" height="6.9" fill="#3a76af"/><path d="M997.09,439.46 H999.69" stroke="#333" stroke-width="0.7"/><text x="995.49" y="443.86" font-size="12.3" text-anchor="end" fill="#333" >says</text><rect x="999.69" y="446.48" width="13.01" height="6.9" fill="#3a76af"/><path d="M997.09,449.93 H999.69" stroke="#333" stroke-width="0.7"/><text x="995.49" y="454.33" font-size="12.3" text-anchor="end" fill="#333" >epa</text><rect x="999.69" y="456.95" width="12.62" height="6.9" fill="#3a76af"/><path d="M997.09,460.4 H999.69" stroke="#333" stroke-width="0.7"/><text x="995.49" y="464.8" font-size="12.3" text-anchor="end" fill="#333" >fight</text><rect x="999.69" y="467.42" width="12.24" height="6.9" fill="#3a76af"/><path d="M997.09,470.87 H999.69" stroke="#333" stroke-width="0.7"/><text x="995.49" y="475.27" font-size="12.3" text-anchor="end" fill="#333" >threat</text><rect x="999.69" y="477.89" width="11.09" height="6.9" fill="#3a76af"/><path d="M997.09,481.34 H999.69" stroke="#333" stroke-width="0.7"/><text x="995.49" y="485.74" font-size="12.3" text-anchor="end" fill="#333" >national</text></g>
<g><rect x="1212.01" y="281.26" width="39.79" height="6.9" fill="#3a76af"/><path d="M1209.41,284.71 H1212.01" stroke="#333" stroke-width="0.7"/><text x="1207.42" y="289.11" font-size="12.3" text-anchor="end" fill="#333" >just</text><rect x="1212.01" y="291.66" width="30.22" height="6.9" fill="#3a76af"/><path d="M1209.41,295.11 H1212.01" stroke="#333" stroke-width="0.7"/><text x="1207.42" y="299.51" font-size="12.3" text-anchor="end" fill="#333" >believing</text><rect x="1212.01" y="302.07" width="29.84" height="6.9" fill="#3a76af"/><path d="M1209.41,305.52 H1212.01" stroke="#333" stroke-width="0.7"/><text x="1207.42" y="309.92" font-size="12.3" text-anchor="end" fill="#333" >https</text><rect x="1212.01" y="312.48" width="29.46" height="6.9" fill="#3a76af"/><path d="M1209.41,315.93 H1212.01" stroke="#333" stroke-width="0.7"/><text x="1207.42" y="320.33" font-size="12.3" text-anchor="end" fill="#333" >carbon</text><rect x="1212.01" y="322.89" width="28.31" height="6.9" fill="#3a76af"/><path d="M1209.41,326.34 H1212.01" stroke="#333" stroke-width="0.7"/><text x="1207.42" y="330.74" font-size="12.3" text-anchor="end" fill="#333" >rt</text><rect x="1212.01" y="333.3" width="27.54" height="6.9" fill="#3a76af"/><path d="M1209.41,336.75 H1212.01" stroke="#333" stroke-width="0.7"/><text x="1207.42" y="341.15" font-size="12.3" text-anchor="end" fill="#333" >climate</text><rect x="1212.01" y="343.71" width="26.78" height="6.9" fill="#3a76af"/><path d="M1209.41,347.16 H1212.01" stroke="#333" stroke-width="0.7"/><text x="1207.42" y="351.56" font-size="12.3" text-anchor="end" fill="#333" >change</text><rect x="1212.01" y="354.12" width="23.72" height="6.9" fill="#3a76af"/><path d="M1209.41,357.57 H1212.01" stroke="#333" stroke-width="0.7"/><text x="1207.42" y="361.97" font-size="12.3" text-anchor="end" fill="#333" >ice</text><rect x="1212.01" y="364.53" width="23.72" height="6.9" fill="#3a76af"/><path d="M1209.41,367.98 H1212.01" stroke="#333" stroke-width="0.7"/><text x="1207.42" y="372.38" font-size="12.3" text-anchor="end" fill="#333" >thought</text><rect x="1212.01" y="374.94" width="23.34" height="6.9" fill="#3a76af"/><path d="M1209.41,378.39 H1212.01" stroke="#333" stroke-width="0.7"/><text x="1207.42" y="382.79" font-size="12.3" text-anchor="end" fill="#333" >emissions</text><rect x="1212.01" y="385.35" width="21.81" height="6.9" fill="#3a76af"/><path d="M1209.41,388.8 H1212.01" stroke="#333" stroke-width="0.7"/><text x="1207.42" y="393.2" font-size="12.3" text-anchor="end" fill="#333" >sea</text><rect x="1212.01" y="395.76" width="21.42" height="6.9" fill="#3a76af"/><path d="M1209.41,399.21 H1212.01" stroke="#333" stroke-width="0.7"/><text x="1207.42" y="403.61" font-size="12.3" text-anchor="end" fill="#333" >age</text><rect x="1212.01" y="406.17" width="20.66" height="6.9" fill="#3a76af"/><path d="M1209.41,409.62 H1212.01" stroke="#333" stroke-width="0.7"/><text x="1207.42" y="414.02" font-size="12.3" text-anchor="end" fill="#333" >climatechange</text><rect x="1212.01" y="416.58" width="17.98" height="6.9" fill="#3a76af"/><path d="M1209.41,420.03 H1212.01" stroke="#333" stroke-width="0.7"/><text x="1207.42" y="424.43" font-size="12.3" text-anchor="end" fill="#333" >global</text><rect x="1212.01" y="426.99" width="17.21" height="6.9" fill="#3a76af"/><path d="M1209.41,430.44 H1212.01" stroke="#333" stroke-width="0.7"/><text x="1207.42" y="434.84" font-size="12.3" text-anchor="end" fill="#333" >santa</text><rect x="1212.01" y="437.4" width="16.83" height="6.9" fill="#3a76af"/><path d="M1209.41,440.85 H1212.01" stroke="#333" stroke-width="0.7"/><text x="1207.42" y="445.25" font-size="12.3" text-anchor="end" fill="#333" >danrather</text><rect x="1212.01" y="447.81" width="16.45" height="6.9" fill="#3a76af"/><path d="M1209.41,451.26 H1212.01" stroke="#333" stroke-width="0.7"/><text x="1207.42" y="455.66" font-size="12.3" text-anchor="end" fill="#333" >co2</text><rect x="1212.01" y="458.22" width="15.68" height="6.9" fill="#3a76af"/><path d="M1209.41,461.67 H1212.01" stroke="#333" stroke-width="0.7"/><text x="1207.42" y="466.07" font-size="12.3" text-anchor="end" fill="#333" >warming</text><rect x="1212.01" y="468.63" width="14.92" height="6.9" fill="#3a76af"/><path d="M1209.41,472.08 H1212.01" stroke="#333" stroke-width="0.7"/><text x="1207.42" y="476.48" font-size="12.3" text-anchor="end" fill="#333" >considered</text><rect x="1212.01" y="479.04" width="14.54" height="6.9" fill="#3a76af"/><path d="M1209.41,482.49 H1212.01" stroke="#333" stroke-width="0.7"/><text x="1207.42" y="486.89" font-size="12.3" text-anchor="end" fill="#333" >marginal</text></g>
<g><rect x="1426.24" y="278.96" width="47.44" height="6.9" fill="#3a76af"/><path d="M1423.64,282.41 H1426.24" stroke="#333" stroke-width="0.7"/><text x="1422.04" y="286.81" font-size="12.3" text-anchor="end" fill="#333" >weather</text><rect x="1426.24" y="289.53" width="43.23" height="6.9" fill="#3a76af"/><path d="M1423.64,292.98 H1426.24" stroke="#333" stroke-width="0.7"/><text x="1422.04" y="297.38" font-size="12.3" text-anchor="end" fill="#333" >doesn</text><rect x="1426.24" y="300.1" width="38.26" height="6.9" fill="#3a76af"/><path d="M1423.64,303.55 H1426.24" stroke="#333" stroke-width="0.7"/><text x="1422.04" y="307.95" font-size="12.3" text-anchor="end" fill="#333" >extreme</text><rect x="1426.24" y="310.67" width="34.05" height="6.9" fill="#3a76af"/><path d="M1423.64,314.12 H1426.24" stroke="#333" stroke-width="0.7"/><text x="1422.04" y="318.52" font-size="12.3" text-anchor="end" fill="#333" >cold</text><rect x="1426.24" y="321.24" width="28.31" height="6.9" fill="#3a76af"/><path d="M1423.64,324.69 H1426.24" stroke="#333" stroke-width="0.7"/><text x="1422.04" y="329.09" font-size="12.3" text-anchor="end" fill="#333" >hot</text><rect x="1426.24" y="331.81" width="27.16" height="6.9" fill="#3a76af"/><path d="M1423.64,335.26 H1426.24" stroke="#333" stroke-width="0.7"/><text x="1422.04" y="339.66" font-size="12.3" text-anchor="end" fill="#333" >heat</text><rect x="1426.24" y="342.38" width="26.01" height="6.9" fill="#3a76af"/><path d="M1423.64,345.83 H1426.24" stroke="#333" stroke-width="0.7"/><text x="1422.04" y="350.23" font-size="12.3" text-anchor="end" fill="#333" >rt</text><rect x="1426.24" y="352.95" width="24.48" height="6.9" fill="#3a76af"/><path d="M1423.64,356.4 H1426.24" stroke="#333" stroke-width="0.7"/><text x="1422.04" y="360.8" font-size="12.3" text-anchor="end" fill="#333" >global</text><rect x="1426.24" y="363.52" width="24.48" height="6.9" fill="#3a76af"/><path d="M1423.64,366.97 H1426.24" stroke="#333" stroke-width="0.7"/><text x="1422.04" y="371.37" font-size="12.3" text-anchor="end" fill="#333" >warming</text><rect x="1426.24" y="374.1" width="22.95" height="6.9" fill="#3a76af"/><path d="M1423.64,377.55 H1426.24" stroke="#333" stroke-width="0.7"/><text x="1422.04" y="381.95" font-size="12.3" text-anchor="end" fill="#333" >mean</text><rect x="1426.24" y="384.67" width="22.57" height="6.9" fill="#3a76af"/><path d="M1423.64,388.12 H1426.24" stroke="#333" stroke-width="0.7"/><text x="1422.04" y="392.52" font-size="12.3" text-anchor="end" fill="#333" >means</text><rect x="1426.24" y="395.24" width="22.19" height="6.9" fill="#3a76af"/><path d="M1423.64,398.69 H1426.24" stroke="#333" stroke-width="0.7"/><text x="1422.04" y="403.09" font-size="12.3" text-anchor="end" fill="#333" >maybe</text><rect x="1426.24" y="405.81" width="21.42" height="6.9" fill="#3a76af"/><path d="M1423.64,409.26 H1426.24" stroke="#333" stroke-width="0.7"/><text x="1422.04" y="413.66" font-size="12.3" text-anchor="end" fill="#333" >climate</text><rect x="1426.24" y="416.38" width="21.04" height="6.9" fill="#3a76af"/><path d="M1423.64,419.83 H1426.24" stroke="#333" stroke-width="0.7"/><text x="1422.04" y="424.23" font-size="12.3" text-anchor="end" fill="#333" >change</text><rect x="1426.24" y="426.95" width="19.89" height="6.9" fill="#3a76af"/><path d="M1423.64,430.4 H1426.24" stroke="#333" stroke-width="0.7"/><text x="1422.04" y="434.8" font-size="12.3" text-anchor="end" fill="#333" >hey</text><rect x="1426.24" y="437.52" width="18.36" height="6.9" fill="#3a76af"/><path d="M1423.64,440.97 H1426.24" stroke="#333" stroke-width="0.7"/><text x="1422.04" y="445.37" font-size="12.3" text-anchor="end" fill="#333" >https</text><rect x="1426.24" y="448.09" width="15.68" height="6.9" fill="#3a76af"/><path d="M1423.64,451.54 H1426.24" stroke="#333" stroke-width="0.7"/><text x="1422.04" y="455.94" font-size="12.3" text-anchor="end" fill="#333" >buy</text><rect x="1426.24" y="458.66" width="15.3" height="6.9" fill="#3a76af"/><path d="M1423.64,462.11 H1426.24" stroke="#333" stroke-width="0.7"/><text x="1422.04" y="466.51" font-size="12.3" text-anchor="end" fill="#333" >head</text><rect x="1426.24" y="469.23" width="14.92" height="6.9" fill="#3a76af"/><path d="M1423.64,472.68 H1426.24" stroke="#333" stroke-width="0.7"/><text x="1422.04" y="477.08" font-size="12.3" text-anchor="end" fill="#333" >rich</text><rect x="1426.24" y="479.8" width="14.15" height="6.9" fill="#3a76af"/><path d="M1423.64,483.25 H1426.24" stroke="#333" stroke-width="0.7"/><text x="1422.04" y="487.65" font-size="12.3" text-anchor="end" fill="#333" >class</text></g>
<path d="M999.69,494 H1110.64" stroke="#e4e4e4" stroke-width="1"/>
<text x="1032" y="580.5" font-size="10.4" text-anchor="middle" fill="#000" font-weight="bold" >Corpus&#160; TF-IDF matrix</text>
<text x="1301.5" y="576.3" font-size="10.4" text-anchor="middle" fill="#000" font-weight="bold" >Doc-topic mixture</text>
<text x="1452.6" y="576.3" font-size="10.4" text-anchor="middle" fill="#000" font-weight="bold" >Topic-word distribution</text>
<text x="1034" y="604.5" font-size="11.5" text-anchor="middle" fill="#000" font-style="italic">W</text>
<text x="1292" y="604.5" font-size="11.5" text-anchor="middle" fill="#000" font-style="italic">K</text>
<text x="1451.5" y="618.3" font-size="11.5" text-anchor="middle" fill="#000" font-style="italic">W</text>
<text x="927.4" y="673" font-size="11.5" text-anchor="middle" fill="#000" font-style="italic">N</text>
<text x="1259" y="673" font-size="11.5" text-anchor="middle" fill="#000" font-style="italic">N</text>
<text x="1382.2" y="673" font-size="11.5" text-anchor="middle" fill="#000" font-style="italic">K</text>
<rect x="940.4" y="625.4" width="197.4" height="87.2" fill="#efefef" stroke="#a6a6a6" stroke-width="1" />
<rect x="1273.6" y="625.4" width="35.2" height="87.2" fill="#a2c4c9" stroke="#8f9a9c" stroke-width="1" />
<rect x="1394.1" y="648.7" width="117.9" height="39.8" fill="#d9ead3" stroke="#8a8a8a" stroke-width="1.2" />
<text x="1038.7" y="675.2" font-size="16.5" text-anchor="middle" fill="#000" font-weight="bold" >M</text>
<text x="1290.8" y="675.2" font-size="16.5" text-anchor="middle" fill="#000" font-weight="bold" >U</text>
<text x="1453" y="675.2" font-size="16.5" text-anchor="middle" fill="#000" font-weight="bold" >V</text>
<g fill="#eee" stroke="#999" stroke-width="0.9"><path d="M1189,646.6 L1196.6,657 H1181.6 Z"/><rect x="1174.2" y="661" width="29.2" height="6.4"/><rect x="1174.200" y="671" width="29.200" height="6.400"/></g>
<path d="M-3.2,-10.3 L3.2,-10.3 L3.2,-3.2 L10.3,-3.2 L10.3,3.2 L3.2,3.2 L3.2,10.3 L-3.2,10.3 L-3.2,3.2 L-10.3,3.2 L-10.3,-3.2 L-3.2,-3.2 Z" transform="translate(1339.8 669.6) rotate(45)" fill="#eee" stroke="#999" stroke-width="0.9"/>
<circle cx="906.4" cy="893.1" r="4.1" fill="#000"/>
<circle cx="906.4" cy="916.35" r="4.1" fill="#000"/>
<circle cx="906.4" cy="939.6" r="4.1" fill="#000"/>
<path d="M628,1001.3 L1252,956 L1869,1009" fill="none" stroke="#9a9a9a" stroke-width="0.9"/>
<rect x="1721" y="271" width="756" height="647" rx="102" ry="102" fill="none" stroke="#2b9ea0" stroke-width="1.4"/>
<path d="M1767,346.2 H2003 V533.2 H1767 Z M1767,385.3 H2003 M1767,422.4 H2003 M1767,459.4 H2003 M1767,496.2 H2003" fill="none" stroke="#000" stroke-width="1.7"/>
<path d="M2070,340.8 H2463.7 V490.7 H2070 Z M2070,379.2 H2463.7 M2070,416.6 H2463.7 M2070,453.3 H2463.7" fill="none" stroke="#000" stroke-width="1.7"/>
<g stroke="#222" fill="none"><path d="M1850.3,592 H2367" stroke-width="1.7"/><path d="M1850.3,622.2 H2367" stroke-width="1.2"/><path d="M1850.3,896.6 H2367" stroke-width="1.7"/><path d="M1850.6,598.4 V618.5 M1927.1,598.4 V618.5 M2158.3,598.4 V618.5 M2366.8,598.4 V618.5 M1850.6,628 V892.2 M1927.1,628 V892.2 M2158.3,628 V892.2 M2366.8,628 V892.2" stroke-width="1"/></g>
<rect x="99.7" y="1001.1" width="1054.5" height="655" rx="103" ry="103" fill="none" stroke="#a3195b" stroke-width="1.1"/>
<g><path d="M203.11,1123.2 V1307.4" stroke="#d0d0d0" stroke-width="0.8"/><path d="M210.24,1123.2 V1307.4" stroke="#d0d0d0" stroke-width="0.8"/><path d="M235.2,1123.2 V1307.4" stroke="#d0d0d0" stroke-width="0.8"/><path d="M258.78,1123.2 V1307.4" stroke="#d0d0d0" stroke-width="0.8"/><path d="M283.45,1123.2 V1307.4" stroke="#d0d0d0" stroke-width="0.8"/><path d="M300.18,1123.2 V1307.4" stroke="#d0d0d0" stroke-width="0.8"/><path d="M319.65,1123.2 V1307.4" stroke="#d0d0d0" stroke-width="0.8"/><path d="M341.58,1123.2 V1307.4" stroke="#d0d0d0" stroke-width="0.8"/><path d="M364.07,1123.2 V1307.4" stroke="#d0d0d0" stroke-width="0.8"/><path d="M385.18,1123.2 V1307.4" stroke="#d0d0d0" stroke-width="0.8"/><path d="M405.47,1123.2 V1307.4" stroke="#d0d0d0" stroke-width="0.8"/><path d="M428.23,1123.2 V1307.4" stroke="#d0d0d0" stroke-width="0.8"/><path d="M446.88,1123.2 V1307.4" stroke="#d0d0d0" stroke-width="0.8"/><polyline points="203.1,1298.48 203.57,1298.35 204.04,1298.46 204.51,1298.55 204.98,1298.43 205.45,1298.57 205.92,1298.58 206.39,1297.99 206.86,1298.34 207.33,1298.43 207.8,1298.6 208.27,1298.58 208.74,1298.26 209.21,1298.48 209.68,1298.46 210.15,1298.47 210.62,1298.48 211.09,1298.33 211.56,1298.37 212.03,1298.52 212.49,1298.16 212.96,1298.49 213.43,1298.5 213.9,1298.18 214.37,1298.35 214.84,1298.34 215.31,1298.58 215.78,1298.39 216.25,1298.58 216.72,1298.34 217.19,1298.57 217.66,1298.2 218.13,1298.55 218.6,1298.48 219.07,1298.4 219.54,1298.17 220.01,1298.54 220.48,1298.34 220.95,1298.52 221.42,1298.54 221.89,1298.37 222.36,1298.57 222.83,1298.54 223.3,1298.39 223.77,1298.36 224.24,1298.44 224.71,1298.44 225.18,1297.5 225.65,1298.08 226.12,1296.91 226.59,1297.04 227.06,1296.43 227.53,1297.51 228,1297.67 228.47,1296.75 228.94,1298.09 229.41,1297.07 229.88,1297.8 230.35,1298.32 230.82,1298.41 231.28,1297.4 231.75,1296.77 232.22,1296.94 232.69,1298.37 233.16,1297.18 233.63,1297.02 234.1,1296.37 234.57,1297.09 235.04,1296.91 235.51,1297.65 235.98,1296.63 236.45,1296.73 236.92,1297.65 237.39,1298.25 237.86,1296.61 238.33,1296.87 238.8,1296.71 239.27,1298.51 239.74,1297.92 240.21,1298.34 240.68,1298.37 241.15,1298.18 241.62,1298.34 242.09,1298.53 242.56,1298.33 243.03,1298.23 243.5,1298.32 243.97,1298.42 244.44,1298.2 244.91,1298.43 245.38,1298.46 245.85,1298.37 246.32,1298.2 246.79,1298.15 247.26,1298.52 247.73,1298.46 248.2,1298.39 248.67,1298.35 249.14,1298.16 249.61,1298.08 250.07,1297.44 250.54,1298.29 251.01,1297.8 251.48,1297.54 251.95,1298.46 252.42,1298.57 252.89,1298.33 253.36,1298.2 253.83,1298.01 254.3,1298.48 254.77,1297.84 255.24,1298.14 255.71,1298.42 256.18,1298.14 256.65,1298.19 257.12,1298.33 257.59,1296.92 258.06,1298.09 258.53,1298.28 259,1297.94 259.47,1298.18 259.94,1298.01 260.41,1298.25 260.88,1298.44 261.35,1297.97 261.82,1298.04 262.29,1297.89 262.76,1297.82 263.23,1297.96 263.7,1297.85 264.17,1297.49 264.64,1298.14 265.11,1297 265.58,1298.54 266.05,1298.45 266.52,1297.9 266.99,1298.47 267.46,1297.94 267.93,1297.97 268.4,1298.14 268.86,1298.52 269.33,1298.1 269.8,1297.9 270.27,1298.09 270.74,1298.05 271.21,1298.22 271.68,1297.7 272.15,1297.74 272.62,1298.06 273.09,1298.39 273.56,1298.07 274.03,1298.57 274.5,1298.05 274.97,1297.73 275.44,1298.06 275.91,1298.53 276.38,1298.14 276.85,1297.56 277.32,1298.06 277.79,1298.1 278.26,1297.56 278.73,1298.23 279.2,1297.87 279.67,1298.45 280.14,1298.57 280.61,1298.32 281.08,1298.2 281.55,1296.21 282.02,1298.45 282.49,1298.28 282.96,1297.92 283.43,1298.12 283.9,1297.91 284.37,1298.33 284.84,1297.76 285.31,1297.46 285.78,1297.45 286.25,1297.59 286.72,1297.36 287.19,1298.16 287.65,1298.3 288.12,1297.35 288.59,1298.26 289.06,1296.21 289.53,1297.99 290,1298.42 290.47,1296.54 290.94,1297.59 291.41,1295.58 291.88,1297.46 292.35,1297.56 292.82,1297.67 293.29,1297.75 293.76,1297.72 294.23,1298.31 294.7,1297.28 295.17,1296.23 295.64,1297.08 296.11,1297.37 296.58,1297.84 297.05,1297.9 297.52,1298.58 297.99,1297.2 298.46,1297.84 298.93,1297.92 299.4,1298.32 299.87,1298.57 300.34,1297.22 300.81,1297.1 301.28,1297.89 301.75,1297.71 302.22,1297.17 302.69,1296.97 303.16,1297.2 303.63,1297.86 304.1,1296.99 304.57,1297.19 305.04,1297.85 305.51,1298.47 305.98,1296.05 306.44,1297.39 306.91,1298.16 307.38,1297.32 307.85,1297.33 308.32,1297.57 308.79,1296.65 309.26,1297.22 309.73,1294.33 310.2,1297.13 310.67,1296.36 311.14,1296.27 311.61,1296.76 312.08,1297.56 312.55,1297.43 313.02,1297.28 313.49,1298.44 313.96,1293.81 314.43,1298.26 314.9,1298.24 315.37,1294 315.84,1297.7 316.31,1297.31 316.78,1297.98 317.25,1297.37 317.72,1297.02 318.19,1298.57 318.66,1298.5 319.13,1296.91 319.6,1296.57 320.07,1298.49 320.54,1293.03 321.01,1297.61 321.48,1296.35 321.95,1297.38 322.42,1296.91 322.89,1296.3 323.36,1294.37 323.83,1297.52 324.3,1298.48 324.77,1298.3 325.23,1296.98 325.7,1297.96 326.17,1297.57 326.64,1297.29 327.11,1296.24 327.58,1294.32 328.05,1296.64 328.52,1297.7 328.99,1296.87 329.46,1297.1 329.93,1296.68 330.4,1297.96 330.87,1296.23 331.34,1296.43 331.81,1297.49 332.28,1298.33 332.75,1295.13 333.22,1297.14 333.69,1297.61 334.16,1298.04 334.63,1296.59 335.1,1294.63 335.57,1296.9 336.04,1297.5 336.51,1295.05 336.98,1294.76 337.45,1295.66 337.92,1293.33 338.39,1297.39 338.86,1295.1 339.33,1297.05 339.8,1296.9 340.27,1296.33 340.74,1296.83 341.21,1297.11 341.68,1294.09 342.15,1296.71 342.62,1295.78 343.09,1295.23 343.56,1296.72 344.02,1296.31 344.49,1294.53 344.96,1295.38 345.43,1295.9 345.9,1295.89 346.37,1295.66 346.84,1292.77 347.31,1294.36 347.78,1296.32 348.25,1298.34 348.72,1298.15 349.19,1296.57 349.66,1297.91 350.13,1296.95 350.6,1297.35 351.07,1295.51 351.54,1297.02 352.01,1296.28 352.48,1295.64 352.95,1295.92 353.42,1295.82 353.89,1295.87 354.36,1295.45 354.83,1296.87 355.3,1295.94 355.77,1297.2 356.24,1296.12 356.71,1297.34 357.18,1297.91 357.65,1297.61 358.12,1298.4 358.59,1298.21 359.06,1295.93 359.53,1298.38 360,1296.57 360.47,1296.03 360.94,1297.84 361.41,1296.08 361.88,1297.81 362.35,1294.55 362.81,1294.19 363.28,1293.3 363.75,1293.11 364.22,1294.26 364.69,1295.18 365.16,1295.12 365.63,1294.94 366.1,1292.5 366.57,1293.22 367.04,1296.72 367.51,1295.55 367.98,1295.15 368.45,1293.49 368.92,1295.18 369.39,1289.61 369.86,1296.34 370.33,1291.51 370.8,1295.76 371.27,1288.86 371.74,1295.88 372.21,1294.14 372.68,1296.42 373.15,1293.05 373.62,1296.32 374.09,1292.17 374.56,1295.68 375.03,1295.81 375.5,1295.33 375.97,1296.61 376.44,1295.9 376.91,1294.56 377.38,1294.61 377.85,1295 378.32,1292.33 378.79,1297.84 379.26,1295.11 379.73,1294.56 380.2,1297.6 380.67,1297.79 381.14,1292.72 381.6,1292.59 382.07,1295.32 382.54,1295.71 383.01,1291.81 383.48,1291 383.95,1289.91 384.42,1292.78 384.89,1294.28 385.36,1294.23 385.83,1294.01 386.3,1293 386.77,1295.21 387.24,1292.07 387.71,1291.81 388.18,1296.52 388.65,1290.68 389.12,1293.94 389.59,1293.42 390.06,1294.48 390.53,1291.31 391,1294.17 391.47,1297.46 391.94,1294.47 392.41,1293.12 392.88,1294.02 393.35,1295.84 393.82,1297.11 394.29,1296.13 394.76,1293.92 395.23,1296.92 395.7,1291.62 396.17,1294.16 396.64,1292.64 397.11,1291.07 397.58,1293.02 398.05,1292.9 398.52,1294.37 398.99,1294.1 399.46,1292.2 399.93,1294.52 400.39,1292.72 400.86,1238.01 401.33,1267.18 401.8,1238.01 402.27,1267.18 402.74,1261.51 403.21,1259.56 403.68,1262.35 404.15,1272.44 404.62,1251.09 405.09,1254.91 405.56,1262.82 406.03,1258.27 406.5,1252.22 406.97,1255.92 407.44,1260.82 407.91,1219.92 408.38,1214.66 408.85,1213.33 409.32,1213.33 409.79,1241.34 410.26,1225.97 410.73,1254.91 411.2,1235.99 411.67,1246.68 412.14,1237.53 412.61,1268.29 413.08,1246.81 413.55,1269.73 414.02,1257.58 414.49,1245.61 414.96,1274.84 415.43,1267.67 415.9,1266.1 416.37,1265.38 416.84,1273.22 417.31,1248.25 417.78,1250.5 418.25,1262.89 418.72,1273.69 419.18,1282.4 419.65,1278.06 420.12,1268.22 420.59,1275.47 421.06,1264.07 421.53,1259.15 422,1233.01 422.47,1230.69 422.94,1257.15 423.41,1227.42 423.88,1247.33 424.35,1241.33 424.82,1255.13 425.29,1224.29 425.76,1221.49 426.23,1257.54 426.7,1239.59 427.17,1243.4 427.64,1143.76 428.11,1143.76 428.58,1220.5 429.05,1271.67 429.52,1297.23 429.99,1297.48 430.46,1298.39 430.93,1297.51 431.4,1297.13 431.87,1297.9 432.34,1298.48 432.81,1298.25 433.28,1298.12 433.75,1297.48 434.22,1298.29 434.69,1298.32 435.16,1298.23 435.63,1204.44 436.1,1199.35 436.57,1190.59 437.04,1186.17 437.51,1182.78 437.97,1187.27 438.44,1132.1 438.91,1192.78 439.38,1191.68 439.85,1258.21 440.32,1297.56 440.79,1297.85 441.26,1298.29 441.73,1297.88 442.2,1298.5 442.67,1297.5 443.14,1298.11 443.61,1298.01 444.08,1298 444.55,1298.55 445.02,1297.93 445.49,1298.28 445.96,1298.32 446.43,1297.7 446.9,1298.5" fill="none" stroke="#2b8cbe" stroke-width="1.0" stroke-linejoin="round" /><rect x="191" y="1123.2" width="268.8" height="184.2" fill="none" stroke="#555" stroke-width="0.8"/><path d="M188.4,1298.6 H191" stroke="#555" stroke-width="0.7"/><text x="186.2" y="1301.62" font-size="8.4" text-anchor="end" fill="#333" >0</text><path d="M188.4,1276.16 H191" stroke="#555" stroke-width="0.7"/><text x="186.2" y="1279.18" font-size="8.4" text-anchor="end" fill="#333" >50000</text><path d="M188.4,1253.72 H191" stroke="#555" stroke-width="0.7"/><text x="186.2" y="1256.74" font-size="8.4" text-anchor="end" fill="#333" >100000</text><path d="M188.4,1231.28 H191" stroke="#555" stroke-width="0.7"/><text x="186.2" y="1234.3" font-size="8.4" text-anchor="end" fill="#333" >150000</text><path d="M188.4,1208.84 H191" stroke="#555" stroke-width="0.7"/><text x="186.2" y="1211.86" font-size="8.4" text-anchor="end" fill="#333" >200000</text><path d="M188.4,1186.4 H191" stroke="#555" stroke-width="0.7"/><text x="186.2" y="1189.42" font-size="8.4" text-anchor="end" fill="#333" >250000</text><path d="M188.4,1163.96 H191" stroke="#555" stroke-width="0.7"/><text x="186.2" y="1166.98" font-size="8.4" text-anchor="end" fill="#333" >300000</text><path d="M188.4,1141.52 H191" stroke="#555" stroke-width="0.7"/><text x="186.2" y="1144.54" font-size="8.4" text-anchor="end" fill="#333" >350000</text><text transform="translate(206.71 1300.6) rotate(-90)" font-size="7" text-anchor="start" fill="#222" dy="2.52">COP13</text><text transform="translate(213.84 1300.6) rotate(-90)" font-size="7" text-anchor="start" fill="#222" dy="2.52">COP14</text><text transform="translate(238.8 1300.6) rotate(-90)" font-size="7" text-anchor="start" fill="#222" dy="2.52">COP15</text><text transform="translate(262.38 1300.6) rotate(-90)" font-size="7" text-anchor="start" fill="#222" dy="2.52">COP16</text><text transform="translate(287.05 1300.6) rotate(-90)" font-size="7" text-anchor="start" fill="#222" dy="2.52">COP17</text><text transform="translate(303.78 1300.6) rotate(-90)" font-size="7" text-anchor="start" fill="#222" dy="2.52">COP18</text><text transform="translate(323.25 1300.6) rotate(-90)" font-size="7" text-anchor="start" fill="#222" dy="2.52">COP19</text><text transform="translate(345.18 1300.6) rotate(-90)" font-size="7" text-anchor="start" fill="#222" dy="2.52">COP20</text><text transform="translate(367.67 1300.6) rotate(-90)" font-size="7" text-anchor="start" fill="#222" dy="2.52">COP21</text><text transform="translate(388.78 1300.6) rotate(-90)" font-size="7" text-anchor="start" fill="#222" dy="2.52">COP22</text><text transform="translate(409.07 1300.6) rotate(-90)" font-size="7" text-anchor="start" fill="#222" dy="2.52">COP23</text><text transform="translate(431.83 1300.6) rotate(-90)" font-size="7" text-anchor="start" fill="#222" dy="2.52">COP24</text><text transform="translate(450.48 1300.6) rotate(-90)" font-size="7" text-anchor="start" fill="#222" dy="2.52">COP25</text><path d="M203.11,1307.4 V1310" stroke="#555" stroke-width="0.7"/><text transform="translate(203.11 1325.91) rotate(-54)" font-size="5.9" text-anchor="middle" fill="#333" dy="2.06">11/22/2007</text><path d="M220.53,1307.4 V1310" stroke="#555" stroke-width="0.7"/><text transform="translate(220.53 1326.09) rotate(-54)" font-size="5.9" text-anchor="middle" fill="#333" dy="2.06">05/07/2009</text><path d="M237.94,1307.4 V1310" stroke="#555" stroke-width="0.7"/><text transform="translate(237.94 1326.09) rotate(-54)" font-size="5.9" text-anchor="middle" fill="#333" dy="2.06">01/18/2010</text><path d="M255.35,1307.4 V1310" stroke="#555" stroke-width="0.7"/><text transform="translate(255.35 1326.09) rotate(-54)" font-size="5.9" text-anchor="middle" fill="#333" dy="2.06">10/01/2010</text><path d="M272.76,1307.4 V1310" stroke="#555" stroke-width="0.7"/><text transform="translate(272.76 1325.91) rotate(-54)" font-size="5.9" text-anchor="middle" fill="#333" dy="2.06">06/15/2011</text><path d="M290.17,1307.4 V1310" stroke="#555" stroke-width="0.7"/><text transform="translate(290.17 1326.09) rotate(-54)" font-size="5.9" text-anchor="middle" fill="#333" dy="2.06">05/01/2012</text><path d="M307.58,1307.4 V1310" stroke="#555" stroke-width="0.7"/><text transform="translate(307.58 1326.09) rotate(-54)" font-size="5.9" text-anchor="middle" fill="#333" dy="2.06">03/31/2013</text><path d="M325,1307.4 V1310" stroke="#555" stroke-width="0.7"/><text transform="translate(325 1326.09) rotate(-54)" font-size="5.9" text-anchor="middle" fill="#333" dy="2.06">02/08/2014</text><path d="M342.41,1307.4 V1310" stroke="#555" stroke-width="0.7"/><text transform="translate(342.41 1325.91) rotate(-54)" font-size="5.9" text-anchor="middle" fill="#333" dy="2.06">11/26/2014</text><path d="M359.82,1307.4 V1310" stroke="#555" stroke-width="0.7"/><text transform="translate(359.82 1326.09) rotate(-54)" font-size="5.9" text-anchor="middle" fill="#333" dy="2.06">08/14/2015</text><path d="M377.23,1307.4 V1310" stroke="#555" stroke-width="0.7"/><text transform="translate(377.23 1326.09) rotate(-54)" font-size="5.9" text-anchor="middle" fill="#333" dy="2.06">06/06/2016</text><path d="M394.64,1307.4 V1310" stroke="#555" stroke-width="0.7"/><text transform="translate(394.64 1325.91) rotate(-54)" font-size="5.9" text-anchor="middle" fill="#333" dy="2.06">04/11/2017</text><path d="M412.05,1307.4 V1310" stroke="#555" stroke-width="0.7"/><text transform="translate(412.05 1326.09) rotate(-54)" font-size="5.9" text-anchor="middle" fill="#333" dy="2.06">01/15/2018</text><path d="M429.47,1307.4 V1310" stroke="#555" stroke-width="0.7"/><text transform="translate(429.47 1325.91) rotate(-54)" font-size="5.9" text-anchor="middle" fill="#333" dy="2.06">11/26/2018</text><path d="M446.88,1307.4 V1310" stroke="#555" stroke-width="0.7"/><text transform="translate(446.88 1326.09) rotate(-54)" font-size="5.9" text-anchor="middle" fill="#333" dy="2.06">08/13/2019</text><text transform="translate(150.7 1211.5) rotate(-90)" font-size="9.8" text-anchor="middle" fill="#333" dy="3.43">Number of edges</text><text x="318.6" y="1353.3" font-size="12.6" text-anchor="middle" fill="#333" >Time (weeks)</text></g>
<g><path d="M538.32,1129.6 V1304.6" stroke="#d0d0d0" stroke-width="0.8"/><path d="M544.86,1129.6 V1304.6" stroke="#d0d0d0" stroke-width="0.8"/><path d="M568.37,1129.6 V1304.6" stroke="#d0d0d0" stroke-width="0.8"/><path d="M590.98,1129.6 V1304.6" stroke="#d0d0d0" stroke-width="0.8"/><path d="M614.48,1129.6 V1304.6" stroke="#d0d0d0" stroke-width="0.8"/><path d="M630.25,1129.6 V1304.6" stroke="#d0d0d0" stroke-width="0.8"/><path d="M648.7,1129.6 V1304.6" stroke="#d0d0d0" stroke-width="0.8"/><path d="M669.53,1129.6 V1304.6" stroke="#d0d0d0" stroke-width="0.8"/><path d="M690.65,1129.6 V1304.6" stroke="#d0d0d0" stroke-width="0.8"/><path d="M710.59,1129.6 V1304.6" stroke="#d0d0d0" stroke-width="0.8"/><path d="M730.22,1129.6 V1304.6" stroke="#d0d0d0" stroke-width="0.8"/><path d="M751.65,1129.6 V1304.6" stroke="#d0d0d0" stroke-width="0.8"/><path d="M769.2,1129.6 V1304.6" stroke="#d0d0d0" stroke-width="0.8"/><polyline points="538.32,1137.7 539.8,1137.7 540.7,1209.16 541.29,1272.68 541.74,1190.1 542.18,1248.86 542.78,1277.44 543.23,1243.3 543.67,1244.1 544.27,1283.8 544.86,1293.32 545.46,1244.1 546.05,1243.3 546.65,1288.56 547.54,1292.53 549.03,1293.32 549.62,1294.24" fill="none" stroke="#b5179e" stroke-width="1.3" stroke-linejoin="round" /><polyline points="549.03,1293.32 549.62,1294.24 550.37,1294.05 551.12,1293.97 551.87,1293.73 552.62,1294.05 553.37,1293.76 554.12,1295.18 554.87,1294.49 555.62,1293.73 556.37,1294.2 557.12,1293.8 557.87,1295.05 558.62,1294.48 559.37,1294.84 560.12,1294.37 560.87,1294.32 561.62,1295.21 562.37,1294.89 563.12,1294.79 563.87,1293.77 564.62,1294.01 565.37,1294.98 566.12,1293.96 566.87,1295.01 567.62,1294.25 568.37,1295.03 569.12,1295.23 569.87,1293.85 570.62,1294.9 571.37,1294.89 572.12,1293.67 572.87,1293.84 573.62,1294.77 574.37,1293.7 575.12,1294.37 575.87,1294.15 576.62,1294.9 577.37,1293.74 578.12,1294.13 578.87,1293.69 579.62,1293.81 580.37,1294.76 581.12,1294.66 581.87,1294.97 582.62,1295 583.37,1295.13 584.12,1294.75 584.87,1294.27 585.62,1295.22 586.37,1294.15 587.12,1294.69 587.87,1294.74 588.62,1293.93 589.37,1294.47 590.12,1294.73 590.87,1294.47 591.62,1294.11 592.37,1295.14 593.12,1293.68 593.87,1295.19 594.62,1294.04 595.37,1293.89 596.12,1295.2 596.87,1293.98 597.62,1294.65 598.37,1294.31 599.12,1295.22 599.87,1295.16 600.62,1294.94 601.37,1293.71 602.12,1294.92 602.87,1294.03 603.62,1293.75 604.37,1293.73 605.12,1294.68 605.87,1294.67 606.62,1294.4 607.37,1294 608.12,1295.06 608.87,1294.04 609.62,1293.96 610.37,1293.86 611.12,1295.17 611.87,1293.73 612.62,1295.08 613.37,1294.69 614.12,1295.21 614.87,1294.72 615.62,1243.3 616.37,1243.3 617.12,1295.32 617.87,1295.69 618.62,1295.68 619.37,1295.9 620.12,1243.3 620.87,1243.3 621.62,1243.3 622.37,1294.6 623.12,1295.93 623.87,1296.11 624.62,1294.62 625.37,1295.34 626.12,1295.54 626.87,1295.81 627.62,1295.24 628.37,1294.87 629.12,1295.46 629.87,1295.51 630.62,1296.09 631.37,1294.73 632.12,1296.13 632.87,1295.4 633.62,1294.85 634.37,1295.98 635.12,1295.02 635.87,1294.67 636.62,1295.18 637.37,1294.93 638.12,1296.01 638.87,1295.49 639.62,1295.95 640.37,1294.84 641.12,1295.71 641.87,1295.46 642.62,1294.6 643.37,1294.83 644.12,1294.63 644.87,1295.46 645.62,1295.41 646.37,1295.02 647.12,1295.42 647.87,1295.72 648.62,1295.54 649.37,1295.95 650.12,1295.58 650.87,1294.61 651.62,1294.66 652.37,1295.19 653.12,1295.39 653.87,1295.64 654.62,1296.04 655.37,1295.75 656.12,1294.94 656.87,1294.8 657.62,1295.61 658.37,1294.93 659.12,1294.95 659.87,1295.08 660.62,1295.13 661.37,1294.98 662.12,1295.61 662.87,1295.06 663.62,1295.74 664.37,1295.41 665.12,1294.96 665.87,1295.09 666.62,1295.72 667.37,1294.68 668.12,1295.15 668.87,1295.26 669.62,1296.16 670.37,1295.31 671.12,1295.78 671.87,1295.12 672.62,1295.45 673.37,1294.89 674.12,1295.15 674.87,1294.92 675.62,1295.63 676.37,1295.16 677.12,1295.01 677.87,1294.87 678.62,1295.63 679.37,1294.84 680.12,1294.8 680.87,1295.09 681.62,1294.63 682.37,1294.66 683.12,1295.36 683.87,1295.34 684.62,1295.92 685.37,1294.85 686.12,1294.69 686.87,1295.42 687.62,1295.08 688.37,1295.04 689.12,1295.02 689.87,1295.91 690.62,1294.94 691.37,1295.26 692.12,1295.13 692.87,1295.51 693.62,1295.19 694.37,1294.95 695.12,1295.17 695.87,1295.04 696.62,1296.14 697.37,1295.93 698.12,1295.48 698.87,1295.15 699.62,1295.83 700.37,1295.09 701.12,1295.18 701.87,1296.12 702.62,1295.43 703.37,1295.82 704.12,1296.1 704.87,1295.97 705.62,1295.68 706.37,1295.89 707.12,1295.88 707.87,1296.13 708.62,1295.44 709.37,1295.58 710.12,1295.21 710.87,1295.25 711.62,1295.8 712.37,1294.75 713.12,1296.18 713.87,1295.54 714.62,1295.74 715.37,1295.53 716.12,1296 716.87,1294.86 717.62,1295.59 718.37,1296.13 719.12,1295.21 719.87,1296.03 720.62,1295.32 721.37,1295.64 722.12,1295.26 722.87,1294.66 723.62,1294.88 724.37,1295.52 725.12,1294.89 725.87,1295.16 726.62,1295.6 727.37,1295.96 728.12,1295.24 728.87,1295.29 729.62,1294.66 730.37,1294.65 731.12,1295.22 731.87,1295.62 732.62,1294.76 733.37,1296.18 734.12,1296.01 734.87,1295.28 735.62,1295.21 736.37,1295.96 737.12,1295.18 737.87,1294.77 738.62,1295.59 739.37,1295.5 740.12,1295.82 740.87,1295.72 741.62,1294.64 742.37,1295.58 743.12,1294.66 743.87,1294.73 744.62,1295.24 745.37,1295.77 746.12,1294.62 746.87,1295.39 747.62,1295.52 748.37,1295.68 749.12,1294.62 749.87,1295.4 750.62,1295.73 751.37,1295.43 752.12,1295.99 752.87,1295.2 753.62,1295.48 754.37,1295.72 755.12,1294.94 755.87,1294.81 756.62,1294.03 757.37,1290.97 758.12,1294.52 758.87,1291.23 759.62,1292.82 760.37,1292.36 761.12,1291.68 761.87,1295.99 762.62,1294.97 763.37,1295.7 764.12,1295.34 764.87,1295.65 765.62,1295.71 766.37,1295.34 767.12,1295.45 767.87,1295.61 768.62,1295 769.37,1295.24 770.12,1296.12 770.87,1295.78 771.62,1295.46 772.37,1294.73" fill="none" stroke="#d6409f" stroke-width="1.1" stroke-linejoin="round" /><rect x="526.1" y="1129.6" width="255.9" height="175" fill="none" stroke="#555" stroke-width="0.8"/><path d="M523.5,1296.5 H526.1" stroke="#555" stroke-width="0.7"/><text x="521.3" y="1298.98" font-size="6.9" text-anchor="end" fill="#333" >0.0</text><path d="M523.5,1264.74 H526.1" stroke="#555" stroke-width="0.7"/><text x="521.3" y="1267.22" font-size="6.9" text-anchor="end" fill="#333" >0.2</text><path d="M523.5,1232.98 H526.1" stroke="#555" stroke-width="0.7"/><text x="521.3" y="1235.46" font-size="6.9" text-anchor="end" fill="#333" >0.4</text><path d="M523.5,1201.22 H526.1" stroke="#555" stroke-width="0.7"/><text x="521.3" y="1203.7" font-size="6.9" text-anchor="end" fill="#333" >0.6</text><path d="M523.5,1169.46 H526.1" stroke="#555" stroke-width="0.7"/><text x="521.3" y="1171.94" font-size="6.9" text-anchor="end" fill="#333" >0.8</text><path d="M523.5,1137.7 H526.1" stroke="#555" stroke-width="0.7"/><text x="521.3" y="1140.18" font-size="6.9" text-anchor="end" fill="#333" >1.0</text><text transform="translate(541.52 1298.2) rotate(-90)" font-size="6.3" text-anchor="start" fill="#222" dy="2.27">COP13</text><text transform="translate(548.06 1298.2) rotate(-90)" font-size="6.3" text-anchor="start" fill="#222" dy="2.27">COP14</text><text transform="translate(571.57 1298.2) rotate(-90)" font-size="6.3" text-anchor="start" fill="#222" dy="2.27">COP15</text><text transform="translate(594.18 1298.2) rotate(-90)" font-size="6.3" text-anchor="start" fill="#222" dy="2.27">COP16</text><text transform="translate(617.68 1298.2) rotate(-90)" font-size="6.3" text-anchor="start" fill="#222" dy="2.27">COP17</text><text transform="translate(633.45 1298.2) rotate(-90)" font-size="6.3" text-anchor="start" fill="#222" dy="2.27">COP18</text><text transform="translate(651.9 1298.2) rotate(-90)" font-size="6.3" text-anchor="start" fill="#222" dy="2.27">COP19</text><text transform="translate(672.73 1298.2) rotate(-90)" font-size="6.3" text-anchor="start" fill="#222" dy="2.27">COP20</text><text transform="translate(693.85 1298.2) rotate(-90)" font-size="6.3" text-anchor="start" fill="#222" dy="2.27">COP21</text><text transform="translate(713.79 1298.2) rotate(-90)" font-size="6.3" text-anchor="start" fill="#222" dy="2.27">COP22</text><text transform="translate(733.42 1298.2) rotate(-90)" font-size="6.3" text-anchor="start" fill="#222" dy="2.27">COP23</text><text transform="translate(754.85 1298.2) rotate(-90)" font-size="6.3" text-anchor="start" fill="#222" dy="2.27">COP24</text><text transform="translate(772.4 1298.2) rotate(-90)" font-size="6.3" text-anchor="start" fill="#222" dy="2.27">COP25</text><path d="M546.56,1304.6 V1306.8" stroke="#555" stroke-width="0.6"/><path d="M563.04,1304.6 V1306.8" stroke="#555" stroke-width="0.6"/><path d="M579.52,1304.6 V1306.8" stroke="#555" stroke-width="0.6"/><path d="M596.01,1304.6 V1306.8" stroke="#555" stroke-width="0.6"/><path d="M612.49,1304.6 V1306.8" stroke="#555" stroke-width="0.6"/><path d="M628.97,1304.6 V1306.8" stroke="#555" stroke-width="0.6"/><path d="M645.46,1304.6 V1306.8" stroke="#555" stroke-width="0.6"/><path d="M661.94,1304.6 V1306.8" stroke="#555" stroke-width="0.6"/><path d="M678.42,1304.6 V1306.8" stroke="#555" stroke-width="0.6"/><path d="M694.91,1304.6 V1306.8" stroke="#555" stroke-width="0.6"/><path d="M711.39,1304.6 V1306.8" stroke="#555" stroke-width="0.6"/><path d="M727.87,1304.6 V1306.8" stroke="#555" stroke-width="0.6"/><path d="M744.36,1304.6 V1306.8" stroke="#555" stroke-width="0.6"/><path d="M760.84,1304.6 V1306.8" stroke="#555" stroke-width="0.6"/><path d="M538.32,1304.6 V1307.2" stroke="#555" stroke-width="0.7"/><text transform="translate(538.32 1321.62) rotate(-55)" font-size="5.2" text-anchor="middle" fill="#444" dy="1.82">11/22/2007</text><path d="M554.8,1304.6 V1307.2" stroke="#555" stroke-width="0.7"/><text transform="translate(554.8 1321.78) rotate(-55)" font-size="5.2" text-anchor="middle" fill="#444" dy="1.82">05/07/2009</text><path d="M571.28,1304.6 V1307.2" stroke="#555" stroke-width="0.7"/><text transform="translate(571.28 1321.78) rotate(-55)" font-size="5.2" text-anchor="middle" fill="#444" dy="1.82">01/18/2010</text><path d="M587.77,1304.6 V1307.2" stroke="#555" stroke-width="0.7"/><text transform="translate(587.77 1321.78) rotate(-55)" font-size="5.2" text-anchor="middle" fill="#444" dy="1.82">10/01/2010</text><path d="M604.25,1304.6 V1307.2" stroke="#555" stroke-width="0.7"/><text transform="translate(604.25 1321.62) rotate(-55)" font-size="5.2" text-anchor="middle" fill="#444" dy="1.82">06/15/2011</text><path d="M620.73,1304.6 V1307.2" stroke="#555" stroke-width="0.7"/><text transform="translate(620.73 1321.78) rotate(-55)" font-size="5.2" text-anchor="middle" fill="#444" dy="1.82">05/01/2012</text><path d="M637.22,1304.6 V1307.2" stroke="#555" stroke-width="0.7"/><text transform="translate(637.22 1321.78) rotate(-55)" font-size="5.2" text-anchor="middle" fill="#444" dy="1.82">03/31/2013</text><path d="M653.7,1304.6 V1307.2" stroke="#555" stroke-width="0.7"/><text transform="translate(653.7 1321.78) rotate(-55)" font-size="5.2" text-anchor="middle" fill="#444" dy="1.82">02/08/2014</text><path d="M670.18,1304.6 V1307.2" stroke="#555" stroke-width="0.7"/><text transform="translate(670.18 1321.62) rotate(-55)" font-size="5.2" text-anchor="middle" fill="#444" dy="1.82">11/26/2014</text><path d="M686.66,1304.6 V1307.2" stroke="#555" stroke-width="0.7"/><text transform="translate(686.66 1321.78) rotate(-55)" font-size="5.2" text-anchor="middle" fill="#444" dy="1.82">08/14/2015</text><path d="M703.15,1304.6 V1307.2" stroke="#555" stroke-width="0.7"/><text transform="translate(703.15 1321.78) rotate(-55)" font-size="5.2" text-anchor="middle" fill="#444" dy="1.82">06/06/2016</text><path d="M719.63,1304.6 V1307.2" stroke="#555" stroke-width="0.7"/><text transform="translate(719.63 1321.62) rotate(-55)" font-size="5.2" text-anchor="middle" fill="#444" dy="1.82">04/11/2017</text><path d="M736.11,1304.6 V1307.2" stroke="#555" stroke-width="0.7"/><text transform="translate(736.11 1321.78) rotate(-55)" font-size="5.2" text-anchor="middle" fill="#444" dy="1.82">01/15/2018</text><path d="M752.6,1304.6 V1307.2" stroke="#555" stroke-width="0.7"/><text transform="translate(752.6 1321.62) rotate(-55)" font-size="5.2" text-anchor="middle" fill="#444" dy="1.82">11/26/2018</text><path d="M769.08,1304.6 V1307.2" stroke="#555" stroke-width="0.7"/><text transform="translate(769.08 1321.78) rotate(-55)" font-size="5.2" text-anchor="middle" fill="#444" dy="1.82">08/13/2019</text><text transform="translate(500.8 1216) rotate(-90)" font-size="8.7" text-anchor="middle" fill="#333" dy="3.04">Density</text><text x="657.3" y="1351.6" font-size="10.4" text-anchor="middle" fill="#333" >Time (weeks)</text></g>
<g><polyline points="854.31,1302.08 855.08,1301.69 855.84,1301.73 856.61,1301.85 857.37,1302.04 858.14,1301.62 858.9,1301.6 859.67,1301.82 860.43,1301.83 861.2,1302.03 861.96,1302.2 862.73,1301.93 863.49,1301.77 864.26,1302.15 865.02,1301.61 865.79,1302.03 866.78,1298.42 867.32,1283.75 867.93,1298.8 869.16,1295.44 869.92,1296.08 870.69,1295.74 871.45,1296.38 872.6,1297.43 873.13,1273.3 873.75,1296.56 874.51,1295.62 875.35,1297.08 876.19,1293.87 876.73,1293.98 877.26,1270.22 877.88,1294.61 879.56,1282.88 880.11,1291.24 880.74,1281.46 881.34,1293.11 881.9,1280.75 882.64,1294.09 883.35,1278.03 884.11,1289.5 884.82,1274.09 885.49,1289.92 886.03,1272.94 886.76,1292.99 887.51,1269.14 888.13,1291.38 888.76,1268.78 889.53,1290.72 890.05,1267.79 891.26,1295.46 891.8,1266.53 892.41,1297.29 893.18,1296.77 894.02,1296.48 894.55,1270.22 895.17,1295.75 896.62,1293.73 897.15,1261.61 897.77,1291.82 898.53,1291.26 899.68,1291.76 900.21,1259.15 900.83,1293.93 901.97,1293.98 902.51,1259.77 903.12,1293.11 904.27,1290.26 904.8,1259.15 905.42,1293.11 907.79,1295 908.32,1259.77 908.94,1296.29 909.7,1297.05 910.54,1297.27 911.38,1292.97 912.38,1294.41 912.91,1262.84 913.53,1296.19 914.29,1293.92 915.13,1293.96 916.05,1294.08 916.59,1256.08 917.2,1293.82 917.96,1295.72 918.8,1292.37 919.65,1292.52 920.33,1295.65 920.87,1256.69 921.48,1294.35 924.92,1295.48 925.46,1247.47 926.07,1295.99 926.84,1296.23 927.68,1292.61 928.75,1297.34 929.28,1249.31 929.9,1297.75 930.66,1293.42 931.5,1293.6 932.34,1295.28 933.34,1294.76 933.87,1249.31 934.49,1298.24 935.25,1296.98 936.09,1296.8 937.16,1297.02 937.7,1240.09 938.31,1298.12 942.06,1302.06 942.59,1241.93 943.21,1301.53 947.57,1292.66 948.1,1235.78 948.71,1292.2 949.48,1292.28 950.32,1294.16 951.16,1295.75 952,1290.78 952.46,1293.45 953,1232.7 953.61,1292.35 955.52,1297.07 956.06,1229.63 956.67,1295.71 957.44,1289.24 958.28,1289.65 959.12,1288.82 959.81,1292.06 960.34,1227.17 960.95,1293.35 961.72,1290.92 962.56,1288.35 963.48,1293.44 964.01,1238.24 964.63,1291.77 965.39,1293.07 966.23,1288.34 967.3,1294.86 967.84,1234.55 968.45,1289.87 969.22,1285.78 970.06,1294.71 970.9,1289.24 971.59,1289.4 972.12,1227.79 972.74,1287.86 973.5,1288.54 974.34,1291.68 975.41,1290.37 975.95,1221.63 976.56,1286.29 977.33,1284.68 978.17,1291.6 978.7,1223.48 979.31,1291.88 980.08,1291.68 980.92,1292.34 981.53,1288.5 982.07,1216.1 982.68,1290.76 983.45,1283.48 984.29,1285.51 984.9,1290.08 985.43,1216.1 986.05,1287.04 986.81,1287.91 987.65,1286.28 988.72,1288.61 989.26,1217.33 989.87,1289.01 990.64,1288.47 991.48,1286.61 992.55,1284.21 993.08,1212.41 993.7,1285.39 994.46,1289.01 995.3,1283.42 995.84,1209.95 996.45,1282.22 997.37,1202.41 998.09,1272.05 998.72,1209.29 998.9,1294.82 999.43,1266.74 1000.13,1206.95 1000.82,1261.97 1001.34,1205.19 1001.94,1244.56 1002.53,1203.67 1003.18,1241.87 1003.72,1202.3 1004.37,1246.88 1005.02,1292.36 1005.13,1204.92 1005.82,1251.77 1006.48,1207.11 1006.85,1191.5 1007.21,1236.62 1007.81,1204.06 1008.58,1262.62 1009.11,1206.28 1009.84,1240.73 1010.47,1200.08 1010.99,1243.38 1011.61,1200.84 1011.9,1273.91 1012.23,1250.39 1012.8,1205.5 1013.43,1254.71 1014.12,1196.89 1014.82,1246.41 1015.4,1201.15 1016.03,1239.15 1016.8,1203.99 1017.26,1183.11 1017.96,1235.23 1018.67,1180.75 1019.38,1241.75 1020.12,1179.15 1020.8,1255.24 1021.55,1182.46 1022.23,1234.76 1022.99,1174.06 1023.5,1251.74 1024.1,1181.22 1024.65,1242.79 1025.18,1181.87 1025.94,1235.4 1026.57,1183.76 1027.33,1235.96 1027.9,1180.2 1028.58,1236.05 1029.04,1297.28 1029.16,1171.53 1029.76,1251.03 1030.49,1181.41 1031.18,1252.42 1031.33,1163.21 1031.85,1179.16 1032.46,1224.13 1033.09,1176.46 1033.76,1248.28 1034.32,1176.59 1034.91,1251.3 1035.67,1180.68 1036.38,1277.6 1036.39,1221.8 1037.09,1180.26 1037.73,1255.96 1038.4,1170.42 1038.97,1256.75 1039.44,1160.75 1039.63,1178.11 1040.22,1238.49 1040.97,1173.73 1041.51,1224.23 1042.24,1170.95 1042.77,1248.06 1043.38,1170.1 1043.96,1222.32 1044.69,1164.3 1045.79,1293.2 1046.33,1153.37 1046.94,1280.7 1047.71,1291.27 1048.24,1275.82 1048.78,1228.4 1049.39,1279.21 1050.15,1273.89 1050.69,1293.73 1051.22,1154.6 1051.84,1296.57 1052.6,1274.43 1053.44,1280.44 1054.21,1286.31 1054.74,1138.61 1055.35,1289.62 1056.12,1277.02 1056.96,1290.32 1057.8,1292.28 1058.8,1294.38 1059.33,1139.84 1059.94,1295.6 1060.4,1173.13 1061.01,1194.97 1061.44,1174.6 1061.99,1193.21 1062.47,1180.6 1062.89,1189.22 1063.45,1172.54 1063.9,1193.64 1064.51,1174 1065.01,1186.12 1065.57,1174.1 1066.01,1184.1 1066.47,1180.54 1066.96,1187.39 1067.5,1178.67 1068.07,1187.49 1068.52,1169.47 1069.1,1182.05 1069.66,1177.92 1070.24,1181.69 1070.76,1168.52 1071.38,1187.67 1071.99,1168.03 1072.58,1192 1073.07,1172.31 1073.61,1182.35 1074.16,1178.34 1074.77,1184.71 1075.37,1177.63 1075.4,1171.75 1075.98,1176.84 1076.58,1174.23 1077.01,1181.71 1077.46,1171.7 1078.05,1182.69 1078.46,1152.14 1078.49,1178.59 1079,1180.16 1079.42,1169.73 1079.88,1186.76 1080.49,1171.55 1081.09,1181.86 1081.53,1175.31 1082.03,1180.57 1082.61,1168.15 1083.16,1186.08 1083.67,1173.16 1084.19,1186.31 1084.27,1146.61 1084.71,1171.92 1085.34,1257.92 1086.11,1174.13 1086.68,1187.59 1087.28,1174.41 1087.94,1192.6 1088.47,1183.1 1089.05,1188.76 1089.63,1291.75 1090.39,1294.71 1091.16,1294.6 1091.92,1292.73 1092.69,1292.44 1093.45,1299.74 1094.37,1292.36 1094.98,1191.5 1095.59,1175.51 1096.21,1201.34 1096.82,1196.42 1097.58,1163.83 1098.19,1294.82 1098.81,1295.48 1099.57,1296.53 1100.34,1295.75 1101.1,1294.63 1101.87,1295.44 1103.09,1289.9 1103.7,1175.51 1104.31,1288.67 1104.93,1289.43 1105.39,1289.69 1105.84,1288.81" fill="none" stroke="#e24a33" stroke-width="1.0" stroke-linejoin="round" /><rect x="842.4" y="1130.5" width="276.4" height="178.8" fill="none" stroke="#555" stroke-width="0.8"/><path d="M839.8,1302.2 H842.4" stroke="#555" stroke-width="0.7"/><text x="837.6" y="1305.19" font-size="8.3" text-anchor="end" fill="#333" >0</text><path d="M839.8,1277.6 H842.4" stroke="#555" stroke-width="0.7"/><text x="837.6" y="1280.59" font-size="8.3" text-anchor="end" fill="#333" >200</text><path d="M839.8,1253 H842.4" stroke="#555" stroke-width="0.7"/><text x="837.6" y="1255.99" font-size="8.3" text-anchor="end" fill="#333" >400</text><path d="M839.8,1228.4 H842.4" stroke="#555" stroke-width="0.7"/><text x="837.6" y="1231.39" font-size="8.3" text-anchor="end" fill="#333" >600</text><path d="M839.8,1203.8 H842.4" stroke="#555" stroke-width="0.7"/><text x="837.6" y="1206.79" font-size="8.3" text-anchor="end" fill="#333" >800</text><path d="M839.8,1179.2 H842.4" stroke="#555" stroke-width="0.7"/><text x="837.6" y="1182.19" font-size="8.3" text-anchor="end" fill="#333" >1000</text><path d="M839.8,1154.6 H842.4" stroke="#555" stroke-width="0.7"/><text x="837.6" y="1157.59" font-size="8.3" text-anchor="end" fill="#333" >1200</text><path d="M854.89,1309.3 V1311.5" stroke="#555" stroke-width="0.7"/><text transform="translate(854.89 1325.12) rotate(-60)" font-size="4.9" text-anchor="middle" fill="#555" dy="1.72">11/22/2007</text><path d="M863.79,1309.3 V1311.5" stroke="#555" stroke-width="0.7"/><text transform="translate(863.79 1325.28) rotate(-60)" font-size="4.9" text-anchor="middle" fill="#555" dy="1.72">12/24/2008</text><path d="M872.7,1309.3 V1311.5" stroke="#555" stroke-width="0.7"/><text transform="translate(872.7 1325.28) rotate(-60)" font-size="4.9" text-anchor="middle" fill="#555" dy="1.72">05/07/2009</text><path d="M881.6,1309.3 V1311.5" stroke="#555" stroke-width="0.7"/><text transform="translate(881.6 1325.28) rotate(-60)" font-size="4.9" text-anchor="middle" fill="#555" dy="1.72">09/12/2009</text><path d="M890.51,1309.3 V1311.5" stroke="#555" stroke-width="0.7"/><text transform="translate(890.51 1325.28) rotate(-60)" font-size="4.9" text-anchor="middle" fill="#555" dy="1.72">01/18/2010</text><path d="M899.41,1309.3 V1311.5" stroke="#555" stroke-width="0.7"/><text transform="translate(899.41 1325.28) rotate(-60)" font-size="4.9" text-anchor="middle" fill="#555" dy="1.72">05/26/2010</text><path d="M908.32,1309.3 V1311.5" stroke="#555" stroke-width="0.7"/><text transform="translate(908.32 1325.28) rotate(-60)" font-size="4.9" text-anchor="middle" fill="#555" dy="1.72">10/01/2010</text><path d="M917.22,1309.3 V1311.5" stroke="#555" stroke-width="0.7"/><text transform="translate(917.22 1325.12) rotate(-60)" font-size="4.9" text-anchor="middle" fill="#555" dy="1.72">02/07/2011</text><path d="M926.13,1309.3 V1311.5" stroke="#555" stroke-width="0.7"/><text transform="translate(926.13 1325.12) rotate(-60)" font-size="4.9" text-anchor="middle" fill="#555" dy="1.72">06/15/2011</text><path d="M935.03,1309.3 V1311.5" stroke="#555" stroke-width="0.7"/><text transform="translate(935.03 1325.12) rotate(-60)" font-size="4.9" text-anchor="middle" fill="#555" dy="1.72">10/21/2011</text><path d="M943.94,1309.3 V1311.5" stroke="#555" stroke-width="0.7"/><text transform="translate(943.94 1325.28) rotate(-60)" font-size="4.9" text-anchor="middle" fill="#555" dy="1.72">05/01/2012</text><path d="M952.84,1309.3 V1311.5" stroke="#555" stroke-width="0.7"/><text transform="translate(952.84 1325.28) rotate(-60)" font-size="4.9" text-anchor="middle" fill="#555" dy="1.72">10/02/2012</text><path d="M961.74,1309.3 V1311.5" stroke="#555" stroke-width="0.7"/><text transform="translate(961.74 1325.28) rotate(-60)" font-size="4.9" text-anchor="middle" fill="#555" dy="1.72">03/31/2013</text><path d="M970.65,1309.3 V1311.5" stroke="#555" stroke-width="0.7"/><text transform="translate(970.65 1325.28) rotate(-60)" font-size="4.9" text-anchor="middle" fill="#555" dy="1.72">08/06/2013</text><path d="M979.55,1309.3 V1311.5" stroke="#555" stroke-width="0.7"/><text transform="translate(979.55 1325.28) rotate(-60)" font-size="4.9" text-anchor="middle" fill="#555" dy="1.72">02/08/2014</text><path d="M988.46,1309.3 V1311.5" stroke="#555" stroke-width="0.7"/><text transform="translate(988.46 1325.28) rotate(-60)" font-size="4.9" text-anchor="middle" fill="#555" dy="1.72">07/21/2014</text><path d="M997.36,1309.3 V1311.5" stroke="#555" stroke-width="0.7"/><text transform="translate(997.36 1325.12) rotate(-60)" font-size="4.9" text-anchor="middle" fill="#555" dy="1.72">11/26/2014</text><path d="M1006.27,1309.3 V1311.5" stroke="#555" stroke-width="0.7"/><text transform="translate(1006.27 1325.28) rotate(-60)" font-size="4.9" text-anchor="middle" fill="#555" dy="1.72">04/07/2015</text><path d="M1015.17,1309.3 V1311.5" stroke="#555" stroke-width="0.7"/><text transform="translate(1015.17 1325.28) rotate(-60)" font-size="4.9" text-anchor="middle" fill="#555" dy="1.72">08/14/2015</text><path d="M1024.08,1309.3 V1311.5" stroke="#555" stroke-width="0.7"/><text transform="translate(1024.08 1325.28) rotate(-60)" font-size="4.9" text-anchor="middle" fill="#555" dy="1.72">01/09/2016</text><path d="M1032.98,1309.3 V1311.5" stroke="#555" stroke-width="0.7"/><text transform="translate(1032.98 1325.28) rotate(-60)" font-size="4.9" text-anchor="middle" fill="#555" dy="1.72">06/06/2016</text><path d="M1041.89,1309.3 V1311.5" stroke="#555" stroke-width="0.7"/><text transform="translate(1041.89 1325.28) rotate(-60)" font-size="4.9" text-anchor="middle" fill="#555" dy="1.72">10/22/2016</text><path d="M1050.79,1309.3 V1311.5" stroke="#555" stroke-width="0.7"/><text transform="translate(1050.79 1325.12) rotate(-60)" font-size="4.9" text-anchor="middle" fill="#555" dy="1.72">04/11/2017</text><path d="M1059.7,1309.3 V1311.5" stroke="#555" stroke-width="0.7"/><text transform="translate(1059.7 1325.28) rotate(-60)" font-size="4.9" text-anchor="middle" fill="#555" dy="1.72">09/08/2017</text><path d="M1068.6,1309.3 V1311.5" stroke="#555" stroke-width="0.7"/><text transform="translate(1068.6 1325.28) rotate(-60)" font-size="4.9" text-anchor="middle" fill="#555" dy="1.72">01/15/2018</text><path d="M1077.5,1309.3 V1311.5" stroke="#555" stroke-width="0.7"/><text transform="translate(1077.5 1325.28) rotate(-60)" font-size="4.9" text-anchor="middle" fill="#555" dy="1.72">05/23/2018</text><path d="M1086.41,1309.3 V1311.5" stroke="#555" stroke-width="0.7"/><text transform="translate(1086.41 1325.12) rotate(-60)" font-size="4.9" text-anchor="middle" fill="#555" dy="1.72">11/26/2018</text><path d="M1095.31,1309.3 V1311.5" stroke="#555" stroke-width="0.7"/><text transform="translate(1095.31 1325.28) rotate(-60)" font-size="4.9" text-anchor="middle" fill="#555" dy="1.72">04/03/2019</text><path d="M1104.22,1309.3 V1311.5" stroke="#555" stroke-width="0.7"/><text transform="translate(1104.22 1325.28) rotate(-60)" font-size="4.9" text-anchor="middle" fill="#555" dy="1.72">08/13/2019</text><text transform="translate(810.3 1220.7) rotate(-90)" font-size="7.75" text-anchor="middle" fill="#333" dy="2.71">Number of communities</text><clipPath id="ct"><rect x="840" y="1125.3" width="290" height="5"/></clipPath><g clip-path="url(#ct)"><text x="980.4" y="1128.3" font-size="9.3" text-anchor="middle" fill="#333" >Number of communities over time (weekly)</text></g></g>
<circle cx="174.9" cy="1384.8" r="3.5" fill="#9933ff"/>
<circle cx="174.9" cy="1523.7" r="3.5" fill="#9933ff"/>
<circle cx="509" cy="1381.1" r="3.5" fill="#9933ff"/>
<circle cx="509" cy="1589.2" r="3.5" fill="#9933ff"/>
<circle cx="837" cy="1372.8" r="3.5" fill="#9933ff"/>
<circle cx="837" cy="1511.7" r="3.5" fill="#9933ff"/>
<rect x="1268.4" y="1009.2" width="1201" height="647.3" rx="102" ry="102" fill="none" stroke="#a3195b" stroke-width="1.1"/>
<g><path d="M1472.26,1129.96 V1333.47" stroke="#c4c4c4" stroke-width="0.9"/><polyline points="1351.46,1310.56 1363.66,1320.08 1375.56,1308.77 1387.76,1313.83 1399.96,1309.96 1412.15,1311.15 1424.06,1315.32 1436.25,1149.29 1448.16,1309.07 1460.35,1306.69 1472.26,1297.76 1484.45,1304.61 1496.65,1139.48 1508.55,1323.95 1520.46,1321.57 1532.95,1306.99 1544.85,1305.2 1557.05,1304.01 1569.25,1301.33 1581.45,1303.71" fill="none" stroke="#e06c57" stroke-width="1.3" stroke-linejoin="round" /><rect x="1339.26" y="1129.96" width="254.09" height="203.51" fill="none" stroke="#666" stroke-width="0.9"/><path d="M1336.66,1333.17 H1339.26" stroke="#555" stroke-width="0.7"/><text x="1334.46" y="1335.98" font-size="7.8" text-anchor="end" fill="#333" >0</text><path d="M1336.66,1300.35 H1339.26" stroke="#555" stroke-width="0.7"/><text x="1334.46" y="1303.16" font-size="7.8" text-anchor="end" fill="#333" >100</text><path d="M1336.66,1267.5 H1339.26" stroke="#555" stroke-width="0.7"/><text x="1334.46" y="1270.31" font-size="7.8" text-anchor="end" fill="#333" >200</text><path d="M1336.66,1234.69 H1339.26" stroke="#555" stroke-width="0.7"/><text x="1334.46" y="1237.49" font-size="7.8" text-anchor="end" fill="#333" >300</text><path d="M1336.66,1201.87 H1339.26" stroke="#555" stroke-width="0.7"/><text x="1334.46" y="1204.68" font-size="7.8" text-anchor="end" fill="#333" >400</text><path d="M1336.66,1169.02 H1339.26" stroke="#555" stroke-width="0.7"/><text x="1334.46" y="1171.83" font-size="7.8" text-anchor="end" fill="#333" >500</text><path d="M1336.66,1136.2 H1339.26" stroke="#555" stroke-width="0.7"/><text x="1334.46" y="1139.01" font-size="7.8" text-anchor="end" fill="#333" >600</text><path d="M1351.46,1333.47 V1335.87" stroke="#555" stroke-width="0.7"/><text transform="translate(1351.46 1350.65) rotate(-60)" font-size="4.9" text-anchor="middle" fill="#444" dy="1.72">08/06/2012</text><path d="M1399.66,1333.47 V1335.87" stroke="#555" stroke-width="0.7"/><text transform="translate(1399.66 1350.65) rotate(-60)" font-size="4.9" text-anchor="middle" fill="#444" dy="1.72">09/16/2012</text><path d="M1448.16,1333.47 V1335.87" stroke="#555" stroke-width="0.7"/><text transform="translate(1448.16 1350.33) rotate(-60)" font-size="4.9" text-anchor="middle" fill="#444" dy="1.72">11/11/2012</text><path d="M1496.36,1333.47 V1335.87" stroke="#555" stroke-width="0.7"/><text transform="translate(1496.36 1350.65) rotate(-60)" font-size="4.9" text-anchor="middle" fill="#444" dy="1.72">12/13/2012</text><path d="M1544.56,1333.47 V1335.87" stroke="#555" stroke-width="0.7"/><text transform="translate(1544.56 1350.49) rotate(-60)" font-size="4.9" text-anchor="middle" fill="#444" dy="1.72">02/11/2013</text><text transform="translate(1481.56 1333.17) rotate(-90)" font-size="7.4" text-anchor="start" fill="#222" dy="2.66">COP18</text><text x="1466.3" y="1126.01" font-size="9.85" text-anchor="middle" fill="#333" >Number of communities over time (weekly)</text><text transform="translate(1314.86 1231.41) rotate(-90)" font-size="8.75" text-anchor="middle" fill="#333" dy="3.06">Number of communities</text></g>
<g><path d="M1807.57,1137.1 V1340.61" stroke="#c4c4c4" stroke-width="0.9"/><polyline points="1686.77,1315.91 1698.97,1309.37 1710.87,1306.69 1723.07,1307.88 1734.97,1309.66 1747.17,1162.39 1759.37,1303.42 1771.27,1302.23 1783.47,1318.59 1795.37,1331.09 1807.57,1300.44 1819.47,1310.85 1831.67,1146.62 1843.87,1312.04 1855.77,1311.45 1867.97,1290.62 1880.17,1289.43 1892.07,1153.16 1904.27,1206.12 1916.47,1292.7" fill="none" stroke="#e06c57" stroke-width="1.3" stroke-linejoin="round" /><rect x="1674.87" y="1137.1" width="253.79" height="203.51" fill="none" stroke="#666" stroke-width="0.9"/><path d="M1672.27,1339.12 H1674.87" stroke="#555" stroke-width="0.7"/><text x="1670.07" y="1341.93" font-size="7.8" text-anchor="end" fill="#333" >0</text><path d="M1672.27,1309.87 H1674.87" stroke="#555" stroke-width="0.7"/><text x="1670.07" y="1312.68" font-size="7.8" text-anchor="end" fill="#333" >100</text><path d="M1672.27,1280.6 H1674.87" stroke="#555" stroke-width="0.7"/><text x="1670.07" y="1283.4" font-size="7.8" text-anchor="end" fill="#333" >200</text><path d="M1672.27,1251.35 H1674.87" stroke="#555" stroke-width="0.7"/><text x="1670.07" y="1254.16" font-size="7.8" text-anchor="end" fill="#333" >300</text><path d="M1672.27,1222.1 H1674.87" stroke="#555" stroke-width="0.7"/><text x="1670.07" y="1224.91" font-size="7.8" text-anchor="end" fill="#333" >400</text><path d="M1672.27,1192.82 H1674.87" stroke="#555" stroke-width="0.7"/><text x="1670.07" y="1195.63" font-size="7.8" text-anchor="end" fill="#333" >500</text><path d="M1672.27,1163.58 H1674.87" stroke="#555" stroke-width="0.7"/><text x="1670.07" y="1166.38" font-size="7.8" text-anchor="end" fill="#333" >600</text><path d="M1686.77,1340.61 V1343.01" stroke="#555" stroke-width="0.7"/><text transform="translate(1686.77 1357.79) rotate(-60)" font-size="4.9" text-anchor="middle" fill="#444" dy="1.72">07/31/2013</text><path d="M1734.97,1340.61 V1343.01" stroke="#555" stroke-width="0.7"/><text transform="translate(1734.97 1357.79) rotate(-60)" font-size="4.9" text-anchor="middle" fill="#444" dy="1.72">09/01/2013</text><path d="M1783.47,1340.61 V1343.01" stroke="#555" stroke-width="0.7"/><text transform="translate(1783.47 1357.79) rotate(-60)" font-size="4.9" text-anchor="middle" fill="#444" dy="1.72">10/07/2013</text><path d="M1831.67,1340.61 V1343.01" stroke="#555" stroke-width="0.7"/><text transform="translate(1831.67 1357.79) rotate(-60)" font-size="4.9" text-anchor="middle" fill="#444" dy="1.72">12/01/2013</text><path d="M1879.87,1340.61 V1343.01" stroke="#555" stroke-width="0.7"/><text transform="translate(1879.87 1357.79) rotate(-60)" font-size="4.9" text-anchor="middle" fill="#444" dy="1.72">01/23/2014</text><text transform="translate(1816.87 1340.31) rotate(-90)" font-size="7.4" text-anchor="start" fill="#222" dy="2.66">COP19</text><text x="1801.32" y="1132.86" font-size="9.85" text-anchor="middle" fill="#333" >Number of communities over time (weekly)</text><text transform="translate(1650.18 1238.26) rotate(-90)" font-size="8.75" text-anchor="middle" fill="#333" dy="3.06">Number of communities</text></g>
<g><path d="M1479.1,1404.45 V1602.9" stroke="#c4c4c4" stroke-width="0.9"/><polyline points="1361.28,1570.77 1373.18,1495.79 1385.08,1441.04 1396.68,1575.23 1408.58,1582.07 1420.19,1581.48 1432.09,1573.15 1443.99,1436.88 1455.59,1560.65 1467.49,1581.48 1479.1,1420.51 1491,1530.01 1502.9,1593.98 1514.5,1589.81 1526.41,1417.24 1538.01,1419.03 1549.91,1501.74 1561.81,1413.67 1573.71,1515.43 1585.32,1422.3" fill="none" stroke="#e06c57" stroke-width="1.3" stroke-linejoin="round" /><rect x="1349.97" y="1404.45" width="246.36" height="198.45" fill="none" stroke="#666" stroke-width="0.9"/><path d="M1347.37,1584.16 H1349.97" stroke="#555" stroke-width="0.7"/><text x="1345.17" y="1586.96" font-size="7.8" text-anchor="end" fill="#333" >100</text><path d="M1347.37,1561.54 H1349.97" stroke="#555" stroke-width="0.7"/><text x="1345.17" y="1564.35" font-size="7.8" text-anchor="end" fill="#333" >200</text><path d="M1347.37,1538.93 H1349.97" stroke="#555" stroke-width="0.7"/><text x="1345.17" y="1541.74" font-size="7.8" text-anchor="end" fill="#333" >300</text><path d="M1347.37,1516.32 H1349.97" stroke="#555" stroke-width="0.7"/><text x="1345.17" y="1519.13" font-size="7.8" text-anchor="end" fill="#333" >400</text><path d="M1347.37,1493.71 H1349.97" stroke="#555" stroke-width="0.7"/><text x="1345.17" y="1496.52" font-size="7.8" text-anchor="end" fill="#333" >500</text><path d="M1347.37,1471.09 H1349.97" stroke="#555" stroke-width="0.7"/><text x="1345.17" y="1473.9" font-size="7.8" text-anchor="end" fill="#333" >600</text><path d="M1347.37,1448.48 H1349.97" stroke="#555" stroke-width="0.7"/><text x="1345.17" y="1451.29" font-size="7.8" text-anchor="end" fill="#333" >700</text><path d="M1347.37,1425.87 H1349.97" stroke="#555" stroke-width="0.7"/><text x="1345.17" y="1428.68" font-size="7.8" text-anchor="end" fill="#333" >800</text><path d="M1361.28,1602.9 V1605.3" stroke="#555" stroke-width="0.7"/><text transform="translate(1361.28 1620.08) rotate(-60)" font-size="4.9" text-anchor="middle" fill="#444" dy="1.72">08/15/2014</text><path d="M1408.29,1602.9 V1605.3" stroke="#555" stroke-width="0.7"/><text transform="translate(1408.29 1620.08) rotate(-60)" font-size="4.9" text-anchor="middle" fill="#444" dy="1.72">10/17/2014</text><path d="M1455.3,1602.9 V1605.3" stroke="#555" stroke-width="0.7"/><text transform="translate(1455.3 1619.93) rotate(-60)" font-size="4.9" text-anchor="middle" fill="#444" dy="1.72">11/18/2014</text><path d="M1502.31,1602.9 V1605.3" stroke="#555" stroke-width="0.7"/><text transform="translate(1502.31 1620.08) rotate(-60)" font-size="4.9" text-anchor="middle" fill="#444" dy="1.72">12/20/2014</text><path d="M1549.61,1602.9 V1605.3" stroke="#555" stroke-width="0.7"/><text transform="translate(1549.61 1620.08) rotate(-60)" font-size="4.9" text-anchor="middle" fill="#444" dy="1.72">01/24/2015</text><text transform="translate(1488.4 1602.6) rotate(-90)" font-size="7.4" text-anchor="start" fill="#222" dy="2.66">COP20</text><text x="1473.15" y="1400.8" font-size="9.85" text-anchor="middle" fill="#333" >Number of communities over time (weekly)</text><text transform="translate(1325.87 1503.82) rotate(-90)" font-size="8.75" text-anchor="middle" fill="#333" dy="3.06">Number of communities</text></g>
<g><path d="M1811.74,1398.2 V1602.31" stroke="#c4c4c4" stroke-width="0.9"/><polyline points="1690.94,1449.08 1703.14,1441.64 1715.04,1463.95 1727.24,1453.54 1739.44,1436.88 1751.34,1429.44 1763.54,1467.82 1775.44,1408.02 1787.64,1546.37 1799.84,1493.71 1811.74,1494.6 1823.94,1459.49 1836.14,1441.64 1848.33,1466.04 1860.53,1437.77 1872.43,1591.89 1884.34,1592.49 1896.24,1590.4 1908.43,1586.54 1920.63,1590.4" fill="none" stroke="#e06c57" stroke-width="1.3" stroke-linejoin="round" /><rect x="1679.04" y="1398.2" width="253.5" height="204.11" fill="none" stroke="#666" stroke-width="0.9"/><path d="M1676.44,1571.36 H1679.04" stroke="#555" stroke-width="0.7"/><text x="1674.24" y="1574.17" font-size="7.8" text-anchor="end" fill="#333" >200</text><path d="M1676.44,1540.72 H1679.04" stroke="#555" stroke-width="0.7"/><text x="1674.24" y="1543.53" font-size="7.8" text-anchor="end" fill="#333" >400</text><path d="M1676.44,1510.07 H1679.04" stroke="#555" stroke-width="0.7"/><text x="1674.24" y="1512.88" font-size="7.8" text-anchor="end" fill="#333" >600</text><path d="M1676.44,1479.43 H1679.04" stroke="#555" stroke-width="0.7"/><text x="1674.24" y="1482.23" font-size="7.8" text-anchor="end" fill="#333" >800</text><path d="M1676.44,1448.78 H1679.04" stroke="#555" stroke-width="0.7"/><text x="1674.24" y="1451.59" font-size="7.8" text-anchor="end" fill="#333" >1000</text><path d="M1676.44,1418.13 H1679.04" stroke="#555" stroke-width="0.7"/><text x="1674.24" y="1420.94" font-size="7.8" text-anchor="end" fill="#333" >1200</text><path d="M1690.94,1602.31 V1604.71" stroke="#555" stroke-width="0.7"/><text transform="translate(1690.94 1619.49) rotate(-60)" font-size="4.9" text-anchor="middle" fill="#444" dy="1.72">08/21/2018</text><path d="M1739.14,1602.31 V1604.71" stroke="#555" stroke-width="0.7"/><text transform="translate(1739.14 1619.49) rotate(-60)" font-size="4.9" text-anchor="middle" fill="#444" dy="1.72">09/22/2018</text><path d="M1787.34,1602.31 V1604.71" stroke="#555" stroke-width="0.7"/><text transform="translate(1787.34 1619.49) rotate(-60)" font-size="4.9" text-anchor="middle" fill="#444" dy="1.72">10/24/2018</text><path d="M1836.14,1602.31 V1604.71" stroke="#555" stroke-width="0.7"/><text transform="translate(1836.14 1619.49) rotate(-60)" font-size="4.9" text-anchor="middle" fill="#444" dy="1.72">12/30/2018</text><path d="M1884.34,1602.31 V1604.71" stroke="#555" stroke-width="0.7"/><text transform="translate(1884.34 1619.49) rotate(-60)" font-size="4.9" text-anchor="middle" fill="#444" dy="1.72">01/24/2019</text><text transform="translate(1821.04 1602.01) rotate(-90)" font-size="7.4" text-anchor="start" fill="#222" dy="2.66">COP24</text><text x="1805.79" y="1394.26" font-size="9.85" text-anchor="middle" fill="#333" >Number of communities over time (weekly)</text><text transform="translate(1650.18 1500.25) rotate(-90)" font-size="8.75" text-anchor="middle" fill="#333" dy="3.06">Number of communities</text></g>
</svg>
<div id="txt">
<div class="t sf" style="left:85.5px;top:34px;font-size:30.6px;line-height:36.72px;color:#000;-webkit-text-stroke:0.95px #000;letter-spacing:0.45px;">Université</div>
<div class="t sf" style="left:119.5px;top:60px;font-size:31.6px;line-height:37.92px;color:#000;-webkit-text-stroke:0.95px #000;letter-spacing:0.55px;">de Montréal</div>
<div class="t sf" style="left:385px;top:24px;font-size:48.6px;line-height:58.32px;color:#d3443c;-webkit-text-stroke:0.9px #d3443c;letter-spacing:0.75px;">McGill</div>
<div class="t sf" style="left:387.4px;top:72px;font-size:16.2px;line-height:19.44px;color:#d3443c;letter-spacing:5.05px;">UNIVERSITY</div>
<div class="t sf" style="left:130.3px;top:123px;font-size:26.3px;line-height:31.56px;color:#24579a;-webkit-text-stroke:0.25px #24579a;transform:scaleX(0.912);transform-origin:0 0;">Yale University</div>
<div class="t" style="left:435.3px;top:117px;font-size:50.5px;line-height:60.6px;color:#780f7d;-webkit-text-stroke:1.5px #780f7d;transform:scaleX(0.935);transform-origin:0 0;">Mila</div>
<div class="t" style="left:841.3px;top:18px;font-size:46px;line-height:55.2px;color:#000;font-weight:bold;">Understanding Opinions Towards</div>
<div class="t" style="left:855.5px;top:75px;font-size:46px;line-height:55.2px;color:#000;font-weight:bold;">Climate Change on Social Media</div>
<div class="t" style="left:842.8px;top:136px;font-size:26.94px;line-height:32.33px;color:#000;">Yashaswi Pupneja, Joseph Zou, Sacha Levy, Shenyang Huang</div>
<div class="t" style="left:2023px;top:60px;font-size:20.3px;line-height:24.36px;color:#3c3f44;-webkit-text-stroke:0.3px #3c3f44;">NEURAL INFORMATION</div>
<div class="t" style="left:2023px;top:81px;font-size:20.3px;line-height:24.36px;color:#3c3f44;-webkit-text-stroke:0.3px #3c3f44;letter-spacing:-0.55px;">PROCESSING SYSTEMS</div>
<div class="t" style="left:76px;top:201px;font-size:32.5px;line-height:39px;color:#000;width:694px;text-align:center;">Sentiment Analysis</div>
<div class="t" style="left:911px;top:202px;font-size:32.5px;line-height:39px;color:#000;width:687px;text-align:center;">Topic Modelling</div>
<div class="t" style="left:1704px;top:205px;font-size:32.5px;line-height:39px;color:#000;width:745px;text-align:center;">Dataset Exploration</div>
<div class="t" style="left:912px;top:821px;font-size:32.5px;line-height:39px;color:#000;width:687px;text-align:center;">Temporal Graph Analysis</div>
<div class="t" style="left:237px;top:1025px;font-size:32.5px;line-height:39px;color:#000;width:802px;text-align:center;">Mention Networks</div>
<div class="t" style="left:1403.8px;top:1040px;font-size:32.5px;line-height:39px;color:#000;width:962px;text-align:center;">Number of Communities</div>
<div class="t" style="left:300.3px;top:324px;font-size:17.07px;line-height:20.48px;color:#000;font-weight:bold;">negative</div>
<div class="t" style="left:28.9px;top:387px;font-size:17.07px;line-height:20.48px;color:#000;font-weight:bold;">Neutral</div>
<div class="t" style="left:324.7px;top:552px;font-size:17.07px;line-height:20.48px;color:#000;font-weight:bold;">positive</div>
<div class="t" style="left:527.7px;top:319px;font-size:17.07px;line-height:20.48px;color:#000;font-weight:bold;">climatechange</div>
<div class="t" style="left:678.3px;top:405px;font-size:17.07px;line-height:20.48px;color:#000;font-weight:bold;">creativity</div>
<div class="t" style="left:668.1px;top:423px;font-size:17.07px;line-height:20.48px;color:#000;font-weight:bold;">globalwarming</div>
<div class="t" style="left:662.4px;top:449px;font-size:17.07px;line-height:20.48px;color:#000;font-weight:bold;">Energy</div>
<div class="t" style="left:639.2px;top:495px;font-size:17.07px;line-height:20.48px;color:#000;font-weight:bold;">Environment</div>
<div class="t" style="left:444.4px;top:602px;font-size:17.07px;line-height:20.48px;color:#000;font-weight:bold;">climateaction</div>
<div class="t" style="left:59.3px;top:648px;font-size:19.3px;line-height:23.15px;color:#000;"><b class="pv">Results:</b> most tweets are neutral on<br>climate change, many even showing<br>negative sentiments.<br><br><b class="pv">Negative sentiments:</b> often reflect<br>fear and discontent, highlight public<br>awareness and concern about climate<br>events and policies.</div>
<div class="t" style="left:421.6px;top:647px;font-size:19.3px;line-height:23.15px;color:#000;"><b class="pv">Data Details:</b> top 8 most-used hashtags<br>from 13.6 million CC related tweets.<br><br><br><b class="p">Hashtags as Engagement Tools:</b><br>specific hashtags demonstrates how<br>social media users engage with climate<br>change conversation.</div>
<div class="t" style="left:808.4px;top:503px;font-size:19.3px;line-height:26.8px;color:#000;"><b class="p">Methodology:</b> Factorize the tweet-word TF-IDF(term frequency × inverse document frequency)<br>matrix <b>M</b> into tweet-topic matrix <b>U</b> and topic-word distribution matrix <b>V</b></div>
<div class="t" style="left:810.7px;top:712px;font-size:19.3px;line-height:23.2px;color:#000;"><b>Key Findings:</b><br><b class="pv">1. Politics Topic:</b> Centered around politicians, organizations, and climate change actions.<br><b class="pv">2.&#160; </b><b class="p">CO2 Emission Topic:</b> Included discussions on global warming, Arctic ice melting, and sea level rise.<br><b class="pv">3.&#160; Weather Topic:</b> concerns over extreme and abnormal weather patterns linked to global warming.</div>
<div class="t" style="left:930px;top:880px;font-size:19.3px;line-height:23.16px;color:#000;"><span class="pv">Temporal Graphs</span> depicts the <span class="r">social networks</span>.</div>
<div class="t" style="left:930px;top:903px;font-size:19.3px;line-height:23.16px;color:#000;">The <span class="pv">nodes</span> depicts the <span class="r">users</span>.</div>
<div class="t" style="left:930px;top:927px;font-size:19.3px;line-height:23.16px;color:#000;">The <span class="pv">edges</span> between the nodes depicts the <span class="r">interaction between the users</span>.</div>
<div class="t" style="left:1795px;top:297px;font-size:19.3px;line-height:23.16px;color:#9933ff;">Dataset Statistics</div>
<div class="t" style="left:2169px;top:307px;font-size:19.3px;line-height:23.16px;color:#9933ff;">Mention Network Details</div>
<div class="t" style="left:1774.8px;top:354px;font-size:19.3px;line-height:23.16px;color:#000;">13.6 million tweets</div>
<div class="t" style="left:1774.8px;top:392px;font-size:19.3px;line-height:23.16px;color:#000;">3.6 million users</div>
<div class="t" style="left:1774.8px;top:430px;font-size:19.3px;line-height:23.16px;color:#000;">5.3 million retweets</div>
<div class="t" style="left:1774.8px;top:466px;font-size:19.3px;line-height:23.16px;color:#000;">16 million hashtags</div>
<div class="t" style="left:1774.8px;top:503px;font-size:19.3px;line-height:23.16px;color:#000;">11 million mentions</div>
<div class="t" style="left:2077.4px;top:349px;font-size:19.3px;line-height:23.16px;color:#000;">11,531,869 edges</div>
<div class="t" style="left:2077.4px;top:386px;font-size:19.3px;line-height:23.16px;color:#000;">3,113,406 nodes</div>
<div class="t" style="left:2077.4px;top:424px;font-size:19.3px;line-height:23.16px;color:#000;">202,600 nodes in more than 10 edges</div>
<div class="t" style="left:2077.4px;top:461px;font-size:19.3px;line-height:23.16px;color:#000;">17,868 nodes in &gt; 100 edges</div>
<div class="t" style="left:2048.5px;top:552px;font-size:20.4px;line-height:24.48px;color:#9933ff;transform:scaleX(0.905);transform-origin:0 0;">COP Events</div>
<div class="t sf" style="left:1861.8px;top:596px;font-size:18.46px;line-height:22.15px;color:#111;">Name</div>
<div class="t sf" style="left:1939px;top:596px;font-size:18.46px;line-height:22.15px;color:#111;">Date</div>
<div class="t sf" style="left:2170px;top:596px;font-size:18.46px;line-height:22.15px;color:#111;">Location</div>
<div class="t sf" style="left:1861.8px;top:626px;font-size:18.46px;line-height:22.15px;color:#111;">COP13</div>
<div class="t sf" style="left:1939px;top:626px;font-size:18.46px;line-height:22.15px;color:#111;">03 Dec 2007 - 17 Dec 2007</div>
<div class="t sf" style="left:2170px;top:626px;font-size:18.46px;line-height:22.15px;color:#111;">"Bali, Indonesia"</div>
<div class="t sf" style="left:1861.8px;top:646px;font-size:18.46px;line-height:22.15px;color:#111;">COP14</div>
<div class="t sf" style="left:1939px;top:646px;font-size:18.46px;line-height:22.15px;color:#111;">01 Dec 2008 - 12 Dec 2008</div>
<div class="t sf" style="left:2170px;top:646px;font-size:18.46px;line-height:22.15px;color:#111;">"Poznan, Poland"</div>
<div class="t sf" style="left:1861.8px;top:666px;font-size:18.46px;line-height:22.15px;color:#111;">COP15</div>
<div class="t sf" style="left:1939px;top:666px;font-size:18.46px;line-height:22.15px;color:#111;">07 Dec 2009 - 18 Dec 2009</div>
<div class="t sf" style="left:2170px;top:666px;font-size:18.46px;line-height:22.15px;color:#111;">"Copenhagen, Denmark"</div>
<div class="t sf" style="left:1861.8px;top:686px;font-size:18.46px;line-height:22.15px;color:#111;">COP16</div>
<div class="t sf" style="left:1939px;top:686px;font-size:18.46px;line-height:22.15px;color:#111;">28 Nov 2010 - 10 Dec 2010</div>
<div class="t sf" style="left:2170px;top:686px;font-size:18.46px;line-height:22.15px;color:#111;">"Cancun, Mexico"</div>
<div class="t sf" style="left:1861.8px;top:707px;font-size:18.46px;line-height:22.15px;color:#111;">COP17</div>
<div class="t sf" style="left:1939px;top:707px;font-size:18.46px;line-height:22.15px;color:#111;">28 Nov 2011 - 09 Dec 2011</div>
<div class="t sf" style="left:2170px;top:707px;font-size:18.46px;line-height:22.15px;color:#111;">"Durban, South Africa"</div>
<div class="t sf" style="left:1861.8px;top:727px;font-size:18.46px;line-height:22.15px;color:#111;">COP18</div>
<div class="t sf" style="left:1939px;top:727px;font-size:18.46px;line-height:22.15px;color:#111;">26 Nov 2012 - 07 Dec 2012</div>
<div class="t sf" style="left:2170px;top:727px;font-size:18.46px;line-height:22.15px;color:#111;">"Doha, Qatar"</div>
<div class="t sf" style="left:1861.8px;top:747px;font-size:18.46px;line-height:22.15px;color:#111;">COP19</div>
<div class="t sf" style="left:1939px;top:747px;font-size:18.46px;line-height:22.15px;color:#111;">11 Nov 2013 - 23 Nov 2013</div>
<div class="t sf" style="left:2170px;top:747px;font-size:18.46px;line-height:22.15px;color:#111;">"Warsaw, Poland"</div>
<div class="t sf" style="left:1861.8px;top:767px;font-size:18.46px;line-height:22.15px;color:#111;">COP20</div>
<div class="t sf" style="left:1939px;top:767px;font-size:18.46px;line-height:22.15px;color:#111;">01 Dec 2014 - 12 Dec 2014</div>
<div class="t sf" style="left:2170px;top:767px;font-size:18.46px;line-height:22.15px;color:#111;">"Lima, Peru"</div>
<div class="t sf" style="left:1861.8px;top:788px;font-size:18.46px;line-height:22.15px;color:#111;">COP21</div>
<div class="t sf" style="left:1939px;top:788px;font-size:18.46px;line-height:22.15px;color:#111;">30 Nov 2015 - 12 Dec 2015</div>
<div class="t sf" style="left:2170px;top:788px;font-size:18.46px;line-height:22.15px;color:#111;">"Paris, France"</div>
<div class="t sf" style="left:1861.8px;top:808px;font-size:18.46px;line-height:22.15px;color:#111;">COP22</div>
<div class="t sf" style="left:1939px;top:808px;font-size:18.46px;line-height:22.15px;color:#111;">07 Nov 2016 - 18 Nov 2016</div>
<div class="t sf" style="left:2170px;top:808px;font-size:18.46px;line-height:22.15px;color:#111;">"Marrakech, Morocco"</div>
<div class="t sf" style="left:1861.8px;top:828px;font-size:18.46px;line-height:22.15px;color:#111;">COP23</div>
<div class="t sf" style="left:1939px;top:828px;font-size:18.46px;line-height:22.15px;color:#111;">06 Nov 2017 - 17 Nov 2017</div>
<div class="t sf" style="left:2170px;top:828px;font-size:18.46px;line-height:22.15px;color:#111;">"Bonn, Germany"</div>
<div class="t sf" style="left:1861.8px;top:848px;font-size:18.46px;line-height:22.15px;color:#111;">COP24</div>
<div class="t sf" style="left:1939px;top:848px;font-size:18.46px;line-height:22.15px;color:#111;">03 Dec 2018 - 14 Dec 2018</div>
<div class="t sf" style="left:2170px;top:848px;font-size:18.46px;line-height:22.15px;color:#111;">"Katowice, Poland"</div>
<div class="t sf" style="left:1861.8px;top:869px;font-size:18.46px;line-height:22.15px;color:#111;">COP25</div>
<div class="t sf" style="left:1939px;top:869px;font-size:18.46px;line-height:22.15px;color:#111;">02 Dec 2019 - 13 Dec 2019</div>
<div class="t sf" style="left:2170px;top:869px;font-size:18.46px;line-height:22.15px;color:#111;">"Madrid, Spain"</div>
<div class="t" style="left:193px;top:1073px;font-size:27px;line-height:32.4px;color:#9933ff;font-weight:bold;"># Edges over Time</div>
<div class="t" style="left:541px;top:1080px;font-size:27px;line-height:32.4px;color:#9933ff;font-weight:bold;">Density over time</div>
<div class="t" style="left:824.5px;top:1083px;font-size:27px;line-height:32.4px;color:#9933ff;font-weight:bold;"># communities over time</div>
<div class="t" style="left:198.3px;top:1371px;font-size:19.3px;line-height:23.15px;color:#000;"><b class="p">COP Events Impact:</b> Notable<br>spikes in edge numbers occur<br>around COP events, suggesting<br>heightened discussions during<br>these key climate summits.</div>
<div class="t" style="left:198.3px;top:1510px;font-size:19.3px;line-height:23.15px;color:#000;"><b class="p">Data Insights:</b> The increase in<br>edges around COP events<br>indicates a surge in climate<br>change conversations,<br>particularly during significant<br>COP meetings.</div>
<div class="t" style="left:533px;top:1367px;font-size:19.3px;line-height:23.15px;color:#000;"><b class="p">COP 17 Correlation:</b> The<br>notable peak around COP<br>17 aligns with significant<br>global agreements on<br>emission reductions,<br>reflecting intensified<br>discussions among active<br>Twitter users.</div>
<div class="t" style="left:533px;top:1576px;font-size:19.3px;line-height:23.15px;color:#444;"><b class="p">Graph Evolution:</b> Graph<br>density trends, marked<br>against COP events.</div>
<div class="t" style="left:859.8px;top:1359px;font-size:19.3px;line-height:23.15px;color:#000;"><b class="p">COP 18 and 19:</b> There's a<br>noticeable decrease in the<br>number of communities,<br>suggesting larger, more<br>unified discussion groups.</div>
<div class="t" style="left:859.8px;top:1498px;font-size:19.3px;line-height:23.15px;color:#000;"><b class="p">Algorithm Limitations:</b> The<br>Louvain algorithm, focusing<br>solely on graph structure<br>which may affect the<br>interpretation of community<br>dynamics.</div>
<div class="t" style="left:1962.4px;top:1144px;font-size:19.3px;line-height:23.17px;color:#000;"><b class="pv">Fluctuating Community Engagement:</b> The number of<br>communities experiences significant fluctuations, with<br>peaks often corresponding to the periods around the<br>Conference of the Parties (COP) events, reflecting the<br>global climate discussion cycles.</div>
<div class="t" style="left:1962.4px;top:1283px;font-size:19.3px;line-height:23.17px;color:#000;"><b class="pv">Impact of Major COP Meetings:</b> Specific COP events,<br>such as COP 24, demonstrate noticeable influences on<br>the community dynamics, with increases in the number of<br>communities suggesting more diverse and possibly<br>fragmented discussions during these times.</div>
<div class="t" style="left:1962.4px;top:1422px;font-size:19.3px;line-height:23.17px;color:#000;"><b class="p">COP 18 as a Case Study:</b> The graph related to COP 18<br>showcases a sharp decline in the number of communities<br>following the event, indicating a consolidation of<br>discussions into larger, more interconnected groups,<br>possibly as a result of productive dialogues at the<br>conference.</div>
</div>
</body></html>
